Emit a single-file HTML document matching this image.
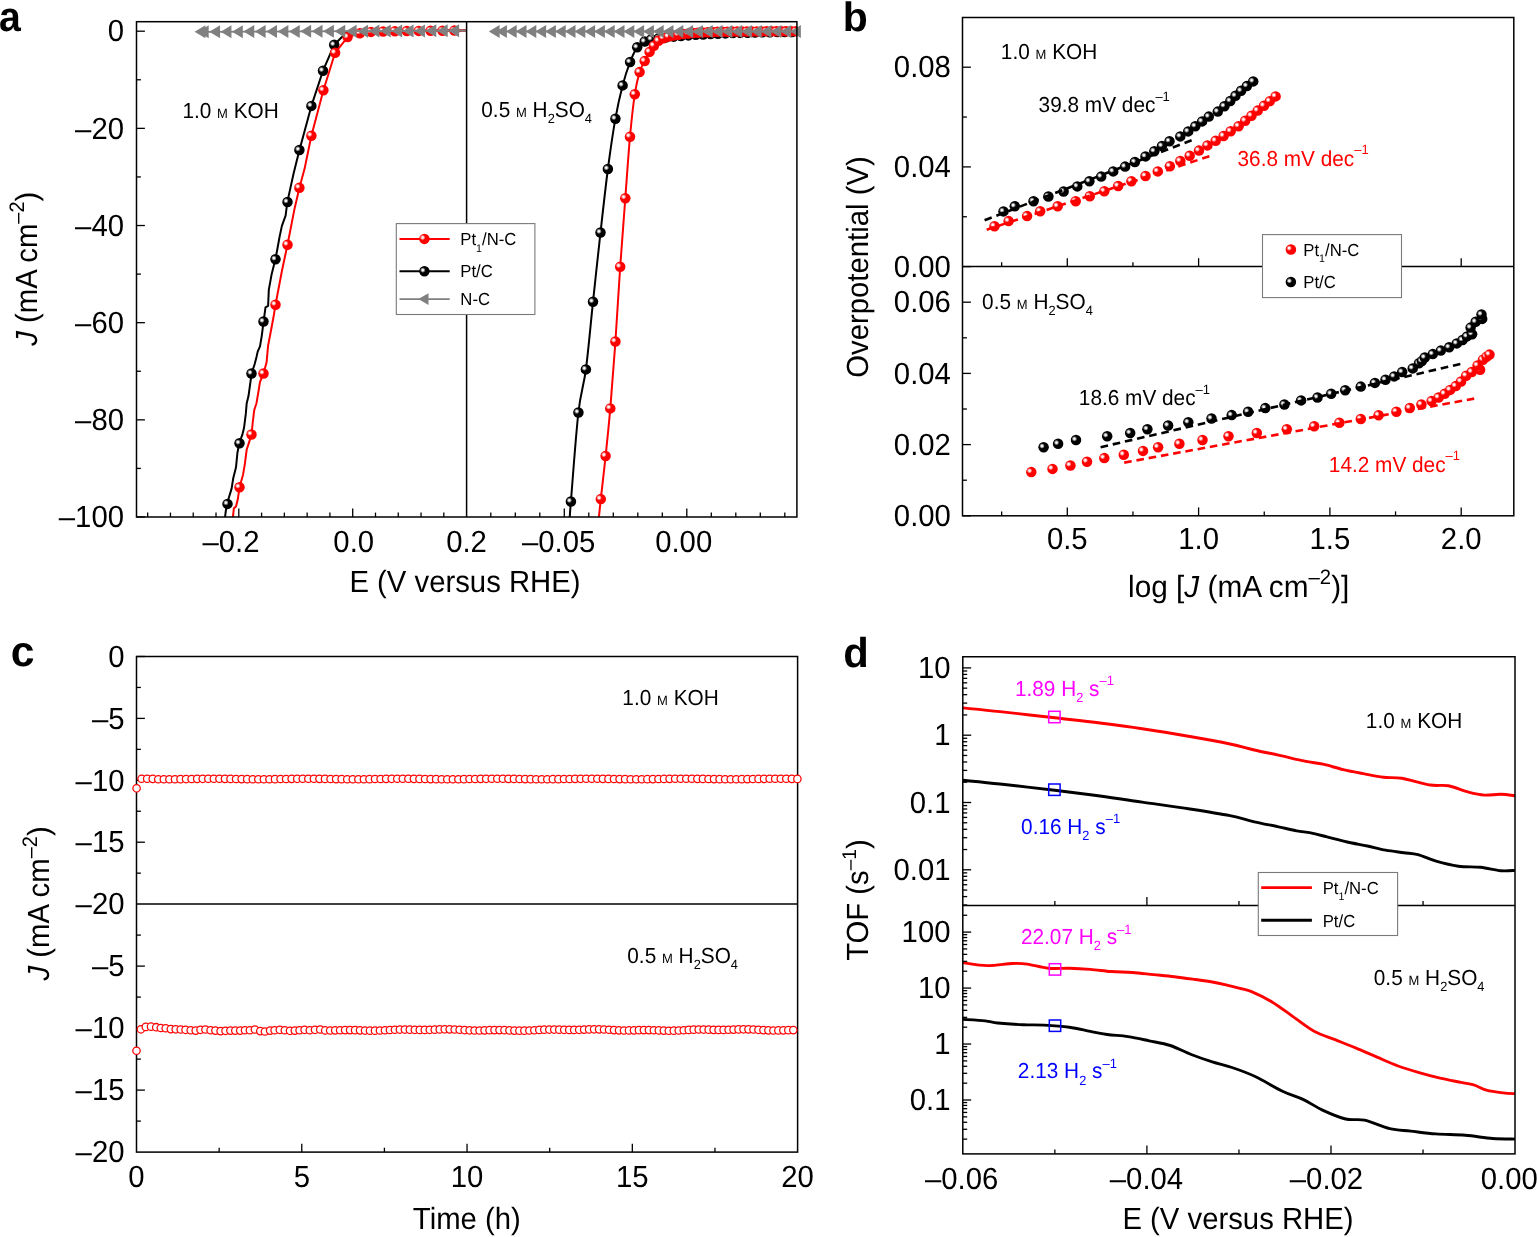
<!DOCTYPE html>
<html><head><meta charset="utf-8"><title>HER performance figure</title>
<style>
html,body{margin:0;padding:0;background:#fff;}
body{width:1537px;height:1237px;overflow:hidden;}
svg{display:block;}
text{font-family:'Liberation Sans', Arial, Helvetica, sans-serif;text-rendering:geometricPrecision;}
</style></head>
<body>
<svg width="1537" height="1237" viewBox="0 0 1537 1237">
<rect x="0" y="0" width="1537" height="1237" fill="#fff"/>
<defs>
<radialGradient id="hl" cx="0.5" cy="0.5" r="0.5"><stop offset="0" stop-color="#fff" stop-opacity="1"/><stop offset="0.3" stop-color="#fff" stop-opacity="0.95"/><stop offset="1" stop-color="#fff" stop-opacity="0"/></radialGradient>
<symbol id="sR" overflow="visible"><circle r="5.25" fill="#f00"/><circle cx="-1.75" cy="-1.4" r="2.8" fill="url(#hl)"/></symbol>
<symbol id="sK" overflow="visible"><circle r="5.25" fill="#000"/><circle cx="-1.6" cy="-1.2" r="2.8" fill="url(#hl)"/></symbol>
<clipPath id="clipA1"><rect x="136.5" y="21.7" width="330.1" height="495.3"/></clipPath>
<clipPath id="clipA2"><rect x="466.6" y="21.7" width="330.3" height="495.3"/></clipPath>
<clipPath id="clipD1"><rect x="962.8" y="656.4" width="552.2" height="249.1"/></clipPath>
<clipPath id="clipD2"><rect x="962.8" y="905.5" width="552.2" height="248.2"/></clipPath>
</defs>
<g clip-path="url(#clipA1)">
<polyline points="225,518 225.7,511.7 227.1,503.7 228.9,497.5 231.6,488.6 233.3,477.9 236,467.3 237.4,453 239.2,443.2 242.2,435.2 244,428.1 245.8,413.9 246.7,403.2 248.5,396.1 250.2,383.6 251.7,373.3 254.7,364 256.5,356.9 257.7,351.6 260,346.3 261.8,335.6 263.6,321.4 265.5,307.4 268.1,305.9 268.8,289.9 271.7,273.9 275.4,259.3 277.6,247.7 279.7,236.1 281.9,225.9 285.6,215.7 287.3,202.3 290.7,186.6 293.6,173.5 296.5,161.8 299.4,150.2 311.4,105.9 323,70.7 334.2,44.8 341.7,37.3 347,31.5 360,30.8 466.6,30.6" fill="none" stroke="#000" stroke-width="2.0" stroke-linejoin="round" stroke-linecap="round" />
<use href="#sK" x="227.5" y="503.9"/>
<use href="#sK" x="239.5" y="443.3"/>
<use href="#sK" x="251.5" y="373.5"/>
<use href="#sK" x="263.5" y="321.5"/>
<use href="#sK" x="275.5" y="259.3"/>
<use href="#sK" x="287.5" y="202"/>
<use href="#sK" x="299.4" y="150"/>
<use href="#sK" x="311.4" y="105.9"/>
<use href="#sK" x="323" y="70.7"/>
<use href="#sK" x="334.2" y="44.8"/>
<polyline points="232.8,518 233.9,508.2 236,506.4 237.8,499.3 239.5,487.3 243.1,474.4 244.9,463.7 246.7,449.5 248.5,444.1 251.5,434.5 252.9,421 254.2,410.3 256.5,403.2 258.3,392.5 260,381.9 263.5,373.5 266.6,362.3 268,346.3 270.7,332 273.4,317.8 275.5,304.7 281.9,271 287.5,244.7 294.3,209.9 299.4,187.7 304.5,169.1 311.4,135.7 323.4,90.2 335.1,52.8 347.6,37.1 359.9,33.2 371,31.9 383.1,31.5 394.9,31.2 406.8,31 418.7,30.9 430.6,30.8 442.5,30.7 454.4,30.6 467,30.6" fill="none" stroke="#f00" stroke-width="2.0" stroke-linejoin="round" stroke-linecap="round" />
<use href="#sR" x="239.5" y="487.3"/>
<use href="#sR" x="251.5" y="434.5"/>
<use href="#sR" x="263.5" y="373.5"/>
<use href="#sR" x="275.5" y="304.7"/>
<use href="#sR" x="287.5" y="244.7"/>
<use href="#sR" x="299.4" y="187.7"/>
<use href="#sR" x="311.4" y="135.7"/>
<use href="#sR" x="323.4" y="90.2"/>
<use href="#sR" x="335.1" y="52.8"/>
<use href="#sR" x="347.6" y="37.1"/>
<use href="#sR" x="359.9" y="33.2"/>
<use href="#sR" x="371" y="31.9"/>
<use href="#sR" x="383.1" y="31.5"/>
<use href="#sR" x="394.9" y="31.2"/>
<use href="#sR" x="406.8" y="31"/>
<use href="#sR" x="418.7" y="30.9"/>
<use href="#sR" x="430.6" y="30.8"/>
<use href="#sR" x="442.5" y="30.7"/>
<use href="#sR" x="454.4" y="30.6"/>
<polyline points="200,31.78 466.6,30.71" fill="none" stroke="#808080" stroke-width="1.8" stroke-linejoin="round" stroke-linecap="round" />
<polygon points="194.6,31.78 205.4,25.28 205.4,38.28" fill="#808080"/>
<polygon points="197.9,31.77 208.7,25.27 208.7,38.27" fill="#808080"/>
<polygon points="209.28,31.72 220.08,25.22 220.08,38.22" fill="#808080"/>
<polygon points="220.66,31.67 231.46,25.17 231.46,38.17" fill="#808080"/>
<polygon points="232.04,31.63 242.84,25.13 242.84,38.13" fill="#808080"/>
<polygon points="243.42,31.58 254.22,25.08 254.22,38.08" fill="#808080"/>
<polygon points="254.8,31.54 265.6,25.04 265.6,38.04" fill="#808080"/>
<polygon points="266.18,31.49 276.98,24.99 276.98,37.99" fill="#808080"/>
<polygon points="277.56,31.45 288.36,24.95 288.36,37.95" fill="#808080"/>
<polygon points="288.94,31.4 299.74,24.9 299.74,37.9" fill="#808080"/>
<polygon points="300.32,31.36 311.12,24.86 311.12,37.86" fill="#808080"/>
<polygon points="311.7,31.31 322.5,24.81 322.5,37.81" fill="#808080"/>
<polygon points="323.08,31.26 333.88,24.76 333.88,37.76" fill="#808080"/>
<polygon points="334.46,31.22 345.26,24.72 345.26,37.72" fill="#808080"/>
<polygon points="345.84,31.17 356.64,24.67 356.64,37.67" fill="#808080"/>
<polygon points="357.22,31.13 368.02,24.63 368.02,37.63" fill="#808080"/>
<polygon points="368.6,31.08 379.4,24.58 379.4,37.58" fill="#808080"/>
<polygon points="379.98,31.04 390.78,24.54 390.78,37.54" fill="#808080"/>
<polygon points="391.36,30.99 402.16,24.49 402.16,37.49" fill="#808080"/>
<polygon points="402.74,30.95 413.54,24.45 413.54,37.45" fill="#808080"/>
<polygon points="414.12,30.9 424.92,24.4 424.92,37.4" fill="#808080"/>
<polygon points="425.5,30.85 436.3,24.35 436.3,37.35" fill="#808080"/>
<polygon points="436.88,30.81 447.68,24.31 447.68,37.31" fill="#808080"/>
<polygon points="448.26,30.76 459.06,24.26 459.06,37.26" fill="#808080"/>
</g>
<g clip-path="url(#clipA2)">
<path d="M569.6,520 C569.82,516.92 569.43,519.42 570.9,501.5 C572.37,483.58 575.9,434.52 578.4,412.5 C580.9,390.48 583.47,387.85 585.9,369.4 C588.33,350.95 590.57,324.62 593,301.8 C595.43,278.98 598.02,254.63 600.5,232.5 C602.98,210.37 605.42,187.97 607.9,169 C610.38,150.03 612.95,132.63 615.4,118.7 C617.85,104.77 620.15,94.85 622.6,85.4 C625.05,75.95 627.67,68.35 630.1,62 C632.53,55.65 634.77,50.72 637.2,47.3 C639.63,43.88 642.33,42.83 644.7,41.5 C647.07,40.17 649.05,39.83 651.4,39.3 C653.75,38.77 656.33,38.61 658.8,38.29 C661.27,37.98 663.73,37.69 666.2,37.41 C668.67,37.14 671.13,36.88 673.6,36.64 C676.07,36.4 678.53,36.18 681,35.97 C683.47,35.76 685.93,35.57 688.4,35.38 C690.87,35.2 693.33,35.03 695.8,34.87 C698.27,34.71 700.73,34.56 703.2,34.42 C705.67,34.28 708.13,34.15 710.6,34.03 C713.07,33.9 715.53,33.79 718,33.68 C720.47,33.58 722.93,33.48 725.4,33.38 C727.87,33.29 730.33,33.2 732.8,33.12 C735.27,33.04 737.73,32.96 740.2,32.89 C742.67,32.82 745.13,32.75 747.6,32.69 C750.07,32.63 752.53,32.57 755,32.52 C757.47,32.46 759.93,32.41 762.4,32.36 C764.87,32.32 767.33,32.27 769.8,32.23 C772.27,32.19 774.73,32.15 777.2,32.11 C779.67,32.08 782.13,32.04 784.6,32.01 C787.07,31.98 789.43,32.04 792,31.92 C794.57,31.8 798.67,31.4 800,31.3" fill="none" stroke="#000" stroke-width="2.0" stroke-linejoin="round" stroke-linecap="round" />
<use href="#sK" x="570.9" y="501.5"/>
<use href="#sK" x="578.4" y="412.5"/>
<use href="#sK" x="585.9" y="369.4"/>
<use href="#sK" x="593" y="301.8"/>
<use href="#sK" x="600.5" y="232.5"/>
<use href="#sK" x="607.9" y="169"/>
<use href="#sK" x="615.4" y="118.7"/>
<use href="#sK" x="622.6" y="85.4"/>
<use href="#sK" x="630.1" y="62"/>
<use href="#sK" x="637.2" y="47.3"/>
<use href="#sK" x="644.7" y="41.5"/>
<use href="#sK" x="651.4" y="39.3"/>
<use href="#sK" x="658.8" y="38.29"/>
<use href="#sK" x="666.2" y="37.41"/>
<use href="#sK" x="673.6" y="36.64"/>
<use href="#sK" x="681" y="35.97"/>
<use href="#sK" x="688.4" y="35.38"/>
<use href="#sK" x="695.8" y="34.87"/>
<use href="#sK" x="703.2" y="34.42"/>
<use href="#sK" x="710.6" y="34.03"/>
<use href="#sK" x="718" y="33.68"/>
<use href="#sK" x="725.4" y="33.38"/>
<use href="#sK" x="732.8" y="33.12"/>
<use href="#sK" x="740.2" y="32.89"/>
<use href="#sK" x="747.6" y="32.69"/>
<use href="#sK" x="755" y="32.52"/>
<use href="#sK" x="762.4" y="32.36"/>
<use href="#sK" x="769.8" y="32.23"/>
<use href="#sK" x="777.2" y="32.11"/>
<use href="#sK" x="784.6" y="32.01"/>
<use href="#sK" x="792" y="31.92"/>
<path d="M598.6,520 C598.97,516.52 599.63,509.77 600.8,499.1 C601.97,488.43 604.02,471.12 605.6,456 C607.18,440.88 608.67,427.48 610.3,408.4 C611.93,389.32 613.75,365.1 615.4,341.5 C617.05,317.9 618.55,290.68 620.2,266.8 C621.85,242.92 623.67,219.88 625.3,198.2 C626.93,176.52 628.42,154.03 630,136.7 C631.58,119.37 633.2,104.97 634.8,94.2 C636.4,83.43 637.95,77.63 639.6,72.1 C641.25,66.57 643.03,64.37 644.7,61 C646.37,57.63 648.07,54.45 649.6,51.9 C651.13,49.35 652.42,47.55 653.9,45.7 C655.38,43.85 656.9,42.05 658.5,40.8 C660.1,39.55 661.83,38.9 663.5,38.2 C665.17,37.5 666.85,37.04 668.5,36.6 C670.15,36.16 671.77,35.86 673.4,35.54 C675.03,35.22 676.67,34.95 678.3,34.69 C679.93,34.44 681.57,34.22 683.2,34.02 C684.83,33.81 686.47,33.64 688.1,33.47 C689.73,33.31 691.37,33.17 693,33.04 C694.63,32.91 696.27,32.8 697.9,32.69 C699.53,32.59 701.17,32.5 702.8,32.41 C704.43,32.33 706.07,32.26 707.7,32.19 C709.33,32.13 710.97,32.07 712.6,32.01 C714.23,31.96 715.87,31.91 717.5,31.87 C719.13,31.83 720.77,31.79 722.4,31.76 C724.03,31.72 725.67,31.69 727.3,31.67 C728.93,31.64 730.57,31.61 732.2,31.59 C733.83,31.57 735.47,31.55 737.1,31.53 C738.73,31.52 740.37,31.5 742,31.49 C743.63,31.47 745.27,31.46 746.9,31.45 C748.53,31.44 750.17,31.43 751.8,31.42 C753.43,31.41 755.07,31.4 756.7,31.4 C758.33,31.39 759.97,31.38 761.6,31.38 C763.23,31.37 764.87,31.37 766.5,31.36 C768.13,31.36 769.77,31.35 771.4,31.35 C773.03,31.35 774.67,31.34 776.3,31.34 C777.93,31.34 779.57,31.33 781.2,31.33 C782.83,31.33 784.47,31.33 786.1,31.33 C787.73,31.32 789.37,31.32 791,31.32 C792.63,31.32 794.4,31.32 795.9,31.32 C797.4,31.31 799.32,31.3 800,31.3" fill="none" stroke="#f00" stroke-width="2.0" stroke-linejoin="round" stroke-linecap="round" />
<use href="#sR" x="600.8" y="499.1"/>
<use href="#sR" x="605.6" y="456"/>
<use href="#sR" x="610.3" y="408.4"/>
<use href="#sR" x="615.4" y="341.5"/>
<use href="#sR" x="620.2" y="266.8"/>
<use href="#sR" x="625.3" y="198.2"/>
<use href="#sR" x="630" y="136.7"/>
<use href="#sR" x="634.8" y="94.2"/>
<use href="#sR" x="639.6" y="72.1"/>
<use href="#sR" x="644.7" y="61"/>
<use href="#sR" x="649.6" y="51.9"/>
<use href="#sR" x="653.9" y="45.7"/>
<use href="#sR" x="658.5" y="40.8"/>
<use href="#sR" x="663.5" y="38.2"/>
<use href="#sR" x="668.5" y="36.6"/>
<use href="#sR" x="673.4" y="35.54"/>
<use href="#sR" x="678.3" y="34.69"/>
<use href="#sR" x="683.2" y="34.02"/>
<use href="#sR" x="688.1" y="33.47"/>
<use href="#sR" x="693" y="33.04"/>
<use href="#sR" x="697.9" y="32.69"/>
<use href="#sR" x="702.8" y="32.41"/>
<use href="#sR" x="707.7" y="32.19"/>
<use href="#sR" x="712.6" y="32.01"/>
<use href="#sR" x="717.5" y="31.87"/>
<use href="#sR" x="722.4" y="31.76"/>
<use href="#sR" x="727.3" y="31.67"/>
<use href="#sR" x="732.2" y="31.59"/>
<use href="#sR" x="737.1" y="31.53"/>
<use href="#sR" x="742" y="31.49"/>
<use href="#sR" x="746.9" y="31.45"/>
<use href="#sR" x="751.8" y="31.42"/>
<use href="#sR" x="756.7" y="31.4"/>
<use href="#sR" x="761.6" y="31.38"/>
<use href="#sR" x="766.5" y="31.36"/>
<use href="#sR" x="771.4" y="31.35"/>
<use href="#sR" x="776.3" y="31.34"/>
<use href="#sR" x="781.2" y="31.33"/>
<use href="#sR" x="786.1" y="31.33"/>
<use href="#sR" x="791" y="31.32"/>
<use href="#sR" x="795.9" y="31.32"/>
<polyline points="494,31.4 800,31.4" fill="none" stroke="#808080" stroke-width="1.8" stroke-linejoin="round" stroke-linecap="round" />
<polygon points="488.8,31.4 499.6,24.9 499.6,37.9" fill="#808080"/>
<polygon points="496.1,31.4 506.9,24.9 506.9,37.9" fill="#808080"/>
<polygon points="505.9,31.4 516.7,24.9 516.7,37.9" fill="#808080"/>
<polygon points="515.7,31.4 526.5,24.9 526.5,37.9" fill="#808080"/>
<polygon points="525.5,31.4 536.3,24.9 536.3,37.9" fill="#808080"/>
<polygon points="535.3,31.4 546.1,24.9 546.1,37.9" fill="#808080"/>
<polygon points="545.1,31.4 555.9,24.9 555.9,37.9" fill="#808080"/>
<polygon points="554.9,31.4 565.7,24.9 565.7,37.9" fill="#808080"/>
<polygon points="564.7,31.4 575.5,24.9 575.5,37.9" fill="#808080"/>
<polygon points="574.5,31.4 585.3,24.9 585.3,37.9" fill="#808080"/>
<polygon points="584.3,31.4 595.1,24.9 595.1,37.9" fill="#808080"/>
<polygon points="594.1,31.4 604.9,24.9 604.9,37.9" fill="#808080"/>
<polygon points="603.9,31.4 614.7,24.9 614.7,37.9" fill="#808080"/>
<polygon points="613.7,31.4 624.5,24.9 624.5,37.9" fill="#808080"/>
<polygon points="623.5,31.4 634.3,24.9 634.3,37.9" fill="#808080"/>
<polygon points="633.3,31.4 644.1,24.9 644.1,37.9" fill="#808080"/>
<polygon points="643.1,31.4 653.9,24.9 653.9,37.9" fill="#808080"/>
<polygon points="652.9,31.4 663.7,24.9 663.7,37.9" fill="#808080"/>
<polygon points="662.7,31.4 673.5,24.9 673.5,37.9" fill="#808080"/>
<polygon points="672.5,31.4 683.3,24.9 683.3,37.9" fill="#808080"/>
<polygon points="682.3,31.4 693.1,24.9 693.1,37.9" fill="#808080"/>
<polygon points="692.1,31.4 702.9,24.9 702.9,37.9" fill="#808080"/>
<polygon points="701.9,31.4 712.7,24.9 712.7,37.9" fill="#808080"/>
<polygon points="711.7,31.4 722.5,24.9 722.5,37.9" fill="#808080"/>
<polygon points="721.5,31.4 732.3,24.9 732.3,37.9" fill="#808080"/>
<polygon points="731.3,31.4 742.1,24.9 742.1,37.9" fill="#808080"/>
<polygon points="741.1,31.4 751.9,24.9 751.9,37.9" fill="#808080"/>
<polygon points="750.9,31.4 761.7,24.9 761.7,37.9" fill="#808080"/>
<polygon points="760.7,31.4 771.5,24.9 771.5,37.9" fill="#808080"/>
<polygon points="770.5,31.4 781.3,24.9 781.3,37.9" fill="#808080"/>
<polygon points="780.3,31.4 791.1,24.9 791.1,37.9" fill="#808080"/>
</g>
<polygon points="790.1,31.4 800.9,24.9 800.9,37.9" fill="#808080"/>
<rect x="136.5" y="21.7" width="660.4" height="495.3" fill="none" stroke="#000" stroke-width="1.5"/>
<line x1="466.6" y1="21.7" x2="466.6" y2="517" stroke="#000" stroke-width="1.5" />
<line x1="136.5" y1="31.2" x2="144.9" y2="31.2" stroke="#000" stroke-width="1.3" />
<text transform="translate(124,41.4) scale(1,1.045)" font-size="29.3" text-anchor="end" fill="#000" font-weight="normal" >0</text>
<line x1="136.5" y1="79.78" x2="140.9" y2="79.78" stroke="#000" stroke-width="1.3" />
<line x1="136.5" y1="128.36" x2="144.9" y2="128.36" stroke="#000" stroke-width="1.3" />
<text transform="translate(124,138.56) scale(1,1.045)" font-size="29.3" text-anchor="end" fill="#000" font-weight="normal" >–20</text>
<line x1="136.5" y1="176.94" x2="140.9" y2="176.94" stroke="#000" stroke-width="1.3" />
<line x1="136.5" y1="225.52" x2="144.9" y2="225.52" stroke="#000" stroke-width="1.3" />
<text transform="translate(124,235.72) scale(1,1.045)" font-size="29.3" text-anchor="end" fill="#000" font-weight="normal" >–40</text>
<line x1="136.5" y1="274.1" x2="140.9" y2="274.1" stroke="#000" stroke-width="1.3" />
<line x1="136.5" y1="322.68" x2="144.9" y2="322.68" stroke="#000" stroke-width="1.3" />
<text transform="translate(124,332.88) scale(1,1.045)" font-size="29.3" text-anchor="end" fill="#000" font-weight="normal" >–60</text>
<line x1="136.5" y1="371.26" x2="140.9" y2="371.26" stroke="#000" stroke-width="1.3" />
<line x1="136.5" y1="419.84" x2="144.9" y2="419.84" stroke="#000" stroke-width="1.3" />
<text transform="translate(124,430.04) scale(1,1.045)" font-size="29.3" text-anchor="end" fill="#000" font-weight="normal" >–80</text>
<line x1="136.5" y1="468.42" x2="140.9" y2="468.42" stroke="#000" stroke-width="1.3" />
<line x1="136.5" y1="517" x2="144.9" y2="517" stroke="#000" stroke-width="1.3" />
<text transform="translate(124,527.2) scale(1,1.045)" font-size="29.3" text-anchor="end" fill="#000" font-weight="normal" >–100</text>
<line x1="147.68" y1="517" x2="147.68" y2="512.6" stroke="#000" stroke-width="1.3" />
<line x1="170.46" y1="517" x2="170.46" y2="512.6" stroke="#000" stroke-width="1.3" />
<line x1="193.24" y1="517" x2="193.24" y2="512.6" stroke="#000" stroke-width="1.3" />
<line x1="216.02" y1="517" x2="216.02" y2="512.6" stroke="#000" stroke-width="1.3" />
<line x1="238.8" y1="517" x2="238.8" y2="508.6" stroke="#000" stroke-width="1.3" />
<line x1="261.58" y1="517" x2="261.58" y2="512.6" stroke="#000" stroke-width="1.3" />
<line x1="284.36" y1="517" x2="284.36" y2="512.6" stroke="#000" stroke-width="1.3" />
<line x1="307.14" y1="517" x2="307.14" y2="512.6" stroke="#000" stroke-width="1.3" />
<line x1="329.92" y1="517" x2="329.92" y2="512.6" stroke="#000" stroke-width="1.3" />
<line x1="352.7" y1="517" x2="352.7" y2="508.6" stroke="#000" stroke-width="1.3" />
<line x1="375.48" y1="517" x2="375.48" y2="512.6" stroke="#000" stroke-width="1.3" />
<line x1="398.26" y1="517" x2="398.26" y2="512.6" stroke="#000" stroke-width="1.3" />
<line x1="421.04" y1="517" x2="421.04" y2="512.6" stroke="#000" stroke-width="1.3" />
<line x1="443.82" y1="517" x2="443.82" y2="512.6" stroke="#000" stroke-width="1.3" />
<line x1="490.8" y1="517" x2="490.8" y2="512.6" stroke="#000" stroke-width="1.3" />
<line x1="515.3" y1="517" x2="515.3" y2="512.6" stroke="#000" stroke-width="1.3" />
<line x1="539.8" y1="517" x2="539.8" y2="512.6" stroke="#000" stroke-width="1.3" />
<line x1="564.3" y1="517" x2="564.3" y2="508.6" stroke="#000" stroke-width="1.3" />
<line x1="588.8" y1="517" x2="588.8" y2="512.6" stroke="#000" stroke-width="1.3" />
<line x1="613.3" y1="517" x2="613.3" y2="512.6" stroke="#000" stroke-width="1.3" />
<line x1="637.8" y1="517" x2="637.8" y2="512.6" stroke="#000" stroke-width="1.3" />
<line x1="662.3" y1="517" x2="662.3" y2="512.6" stroke="#000" stroke-width="1.3" />
<line x1="686.8" y1="517" x2="686.8" y2="508.6" stroke="#000" stroke-width="1.3" />
<line x1="711.3" y1="517" x2="711.3" y2="512.6" stroke="#000" stroke-width="1.3" />
<line x1="735.8" y1="517" x2="735.8" y2="512.6" stroke="#000" stroke-width="1.3" />
<line x1="760.3" y1="517" x2="760.3" y2="512.6" stroke="#000" stroke-width="1.3" />
<line x1="784.8" y1="517" x2="784.8" y2="512.6" stroke="#000" stroke-width="1.3" />
<text transform="translate(202.4,551.8) scale(1,1.045)" font-size="29.3" text-anchor="start" fill="#000" font-weight="normal" >–0.2</text>
<text transform="translate(333.36,551.8) scale(1,1.045)" font-size="29.3" text-anchor="start" fill="#000" font-weight="normal" >0.0</text>
<text transform="translate(446.16,551.8) scale(1,1.045)" font-size="29.3" text-anchor="start" fill="#000" font-weight="normal" >0.2</text>
<text transform="translate(521.9,551.8) scale(1,1.045)" font-size="29.3" text-anchor="start" fill="#000" font-weight="normal" >–0.05</text>
<text transform="translate(655.16,551.8) scale(1,1.045)" font-size="29.3" text-anchor="start" fill="#000" font-weight="normal" >0.00</text>
<text transform="translate(349.4,592.1) scale(1,1.045)" font-size="29.3" text-anchor="start" fill="#000" font-weight="normal" >E (V versus RHE)</text>
<text transform="translate(36.5,268.7) rotate(-90) scale(1,1.045)" font-size="29.3" text-anchor="middle"><tspan font-style="italic">J</tspan> (mA cm<tspan font-size="20" baseline-shift="12.4">–2</tspan>)</text>
<text transform="translate(182.42,117.7) scale(1,1.045)" font-size="20.8" text-anchor="start" fill="#000" font-weight="normal" >1.0 <tspan font-size="13">M</tspan> KOH</text>
<text transform="translate(481.29,117.2) scale(1,1.045)" font-size="20.8" text-anchor="start" fill="#000" font-weight="normal" >0.5 <tspan font-size="13">M</tspan> H<tspan font-size="12.8" baseline-shift="-6">2</tspan>SO<tspan font-size="12.8" baseline-shift="-6">4</tspan></text>
<rect x="396.3" y="223.6" width="138.6" height="90.9" fill="#fff" stroke="#7a7a7a" stroke-width="1.1"/>
<line x1="399.5" y1="238.9" x2="449.7" y2="238.9" stroke="#f00" stroke-width="2.0" />
<use href="#sR" x="424.4" y="238.9"/>
<line x1="399.5" y1="271.3" x2="449.7" y2="271.3" stroke="#000" stroke-width="2.0" />
<use href="#sK" x="424.4" y="271.3"/>
<line x1="399.5" y1="299.1" x2="449.7" y2="299.1" stroke="#808080" stroke-width="1.8" />
<polygon points="418.3,299.1 428.5,293.25 428.5,304.95" fill="#808080"/>
<text transform="translate(460.33,245.4) scale(1,1.045)" font-size="16.7" text-anchor="start" fill="#000" font-weight="normal" >Pt<tspan font-size="10.6" baseline-shift="-6.2">1</tspan>/N-C</text>
<text transform="translate(460.33,276.7) scale(1,1.045)" font-size="16.7" text-anchor="start" fill="#000" font-weight="normal" >Pt/C</text>
<text transform="translate(460.33,304.6) scale(1,1.045)" font-size="16.7" text-anchor="start" fill="#000" font-weight="normal" >N-C</text>
<text transform="translate(-1.1,30.6) scale(0.933,1)" font-size="42" font-weight="bold">a</text>
<use href="#sK" x="1003.5" y="211.4"/>
<use href="#sK" x="1014.8" y="206.3"/>
<use href="#sK" x="1033.5" y="201.2"/>
<use href="#sK" x="1048.4" y="196.5"/>
<use href="#sK" x="1063.6" y="191.5"/>
<use href="#sK" x="1077.3" y="186.4"/>
<use href="#sK" x="1089.4" y="181.3"/>
<use href="#sK" x="1101.2" y="176.6"/>
<use href="#sK" x="1113.2" y="171.4"/>
<use href="#sK" x="1125.1" y="166.6"/>
<use href="#sK" x="1134.9" y="162"/>
<use href="#sK" x="1145.5" y="156.4"/>
<use href="#sK" x="1154.3" y="151.2"/>
<use href="#sK" x="1162" y="146"/>
<use href="#sK" x="1169.5" y="141.2"/>
<use href="#sK" x="1180.3" y="136.4"/>
<use href="#sK" x="1188.2" y="131.4"/>
<use href="#sK" x="1195.3" y="126.2"/>
<use href="#sK" x="1202.1" y="121.4"/>
<use href="#sK" x="1208.8" y="116.6"/>
<use href="#sK" x="1217.8" y="111.6"/>
<use href="#sK" x="1224.4" y="106.2"/>
<use href="#sK" x="1230.3" y="101"/>
<use href="#sK" x="1235.5" y="95.8"/>
<use href="#sK" x="1241.1" y="90.8"/>
<use href="#sK" x="1246.9" y="86"/>
<use href="#sK" x="1253.2" y="81.4"/>
<use href="#sR" x="994.5" y="226.2"/>
<use href="#sR" x="1008.6" y="221.1"/>
<use href="#sR" x="1027.1" y="216.1"/>
<use href="#sR" x="1040.2" y="211.2"/>
<use href="#sR" x="1057.7" y="206.3"/>
<use href="#sR" x="1075.7" y="201.2"/>
<use href="#sR" x="1089.8" y="196.2"/>
<use href="#sR" x="1104.3" y="191.2"/>
<use href="#sR" x="1118.2" y="186"/>
<use href="#sR" x="1131.4" y="181.2"/>
<use href="#sR" x="1145.5" y="176"/>
<use href="#sR" x="1157.8" y="171.4"/>
<use href="#sR" x="1169.9" y="166.2"/>
<use href="#sR" x="1180.3" y="161"/>
<use href="#sR" x="1189.7" y="155.8"/>
<use href="#sR" x="1199" y="150.6"/>
<use href="#sR" x="1207.4" y="145.4"/>
<use href="#sR" x="1215.7" y="140.8"/>
<use href="#sR" x="1223.6" y="136"/>
<use href="#sR" x="1230.7" y="131.2"/>
<use href="#sR" x="1238.6" y="126.2"/>
<use href="#sR" x="1245.2" y="120.8"/>
<use href="#sR" x="1251.5" y="115.8"/>
<use href="#sR" x="1257.7" y="110.6"/>
<use href="#sR" x="1264" y="105.8"/>
<use href="#sR" x="1269.8" y="101.2"/>
<use href="#sR" x="1275.6" y="96.4"/>
<use href="#sK" x="1043.6" y="447.2"/>
<use href="#sK" x="1058.1" y="443.8"/>
<use href="#sK" x="1076" y="440"/>
<use href="#sK" x="1107.2" y="436.2"/>
<use href="#sK" x="1130.2" y="433"/>
<use href="#sK" x="1147.4" y="429.2"/>
<use href="#sK" x="1168.1" y="425.5"/>
<use href="#sK" x="1188.3" y="422.3"/>
<use href="#sK" x="1211.5" y="418.5"/>
<use href="#sK" x="1231.7" y="415.1"/>
<use href="#sK" x="1248.1" y="411.7"/>
<use href="#sK" x="1265.3" y="408.1"/>
<use href="#sK" x="1284.4" y="404.5"/>
<use href="#sK" x="1301.1" y="400.4"/>
<use href="#sK" x="1317.5" y="397.5"/>
<use href="#sK" x="1331.2" y="393.8"/>
<use href="#sK" x="1345.2" y="390.2"/>
<use href="#sK" x="1360.8" y="386.6"/>
<use href="#sK" x="1374.9" y="382.9"/>
<use href="#sK" x="1385.5" y="379.7"/>
<use href="#sK" x="1394.2" y="376.4"/>
<use href="#sK" x="1402.2" y="372"/>
<use href="#sK" x="1412.7" y="368.4"/>
<use href="#sK" x="1419" y="363.3"/>
<use href="#sK" x="1421.9" y="361.1"/>
<use href="#sK" x="1424.8" y="357.5"/>
<use href="#sK" x="1432.8" y="354.1"/>
<use href="#sK" x="1440.8" y="350.6"/>
<use href="#sK" x="1449.2" y="347.3"/>
<use href="#sK" x="1456.8" y="343.4"/>
<use href="#sK" x="1462.6" y="340"/>
<use href="#sK" x="1467" y="336.4"/>
<use href="#sK" x="1472.1" y="334.2"/>
<use href="#sK" x="1470.6" y="327.6"/>
<use href="#sK" x="1475.7" y="321.8"/>
<use href="#sK" x="1482.2" y="318.9"/>
<use href="#sK" x="1481.5" y="314.5"/>
<use href="#sR" x="1031.3" y="472.1"/>
<use href="#sR" x="1052.5" y="468.9"/>
<use href="#sR" x="1070.4" y="465.5"/>
<use href="#sR" x="1087" y="461.7"/>
<use href="#sR" x="1104.3" y="458.1"/>
<use href="#sR" x="1123.8" y="454.7"/>
<use href="#sR" x="1143" y="450.9"/>
<use href="#sR" x="1158.1" y="447.2"/>
<use href="#sR" x="1179.4" y="443.8"/>
<use href="#sR" x="1202.5" y="440"/>
<use href="#sR" x="1228.5" y="436.2"/>
<use href="#sR" x="1256.8" y="433"/>
<use href="#sR" x="1286.8" y="429.2"/>
<use href="#sR" x="1314.2" y="426.3"/>
<use href="#sR" x="1339.4" y="422.7"/>
<use href="#sR" x="1360.8" y="419"/>
<use href="#sR" x="1378.6" y="415.2"/>
<use href="#sR" x="1396.4" y="411.7"/>
<use href="#sR" x="1409.8" y="408"/>
<use href="#sR" x="1421.4" y="404.5"/>
<use href="#sR" x="1431.6" y="401.1"/>
<use href="#sR" x="1438.6" y="397.5"/>
<use href="#sR" x="1444.7" y="393.8"/>
<use href="#sR" x="1450.2" y="389.9"/>
<use href="#sR" x="1455.8" y="386.1"/>
<use href="#sR" x="1461.1" y="381.5"/>
<use href="#sR" x="1466.2" y="375.7"/>
<use href="#sR" x="1471.8" y="372"/>
<use href="#sR" x="1480.1" y="369.8"/>
<use href="#sR" x="1477.6" y="365.5"/>
<use href="#sR" x="1483" y="359.7"/>
<use href="#sR" x="1486.6" y="356.7"/>
<use href="#sR" x="1489.5" y="354.6"/>
<line x1="984.6" y1="220.3" x2="1191.7" y2="140.2" stroke="#000" stroke-width="2.6" stroke-dasharray="7.6 5.01" stroke-linecap="butt"/>
<line x1="986.7" y1="229.7" x2="1209.4" y2="156.2" stroke="#f00" stroke-width="2.6" stroke-dasharray="7.6 5.01" stroke-linecap="butt"/>
<line x1="1100.6" y1="447.2" x2="1460.4" y2="364" stroke="#000" stroke-width="2.6" stroke-dasharray="7.6 4.87" stroke-linecap="butt"/>
<line x1="1124.2" y1="462.6" x2="1474.2" y2="398.6" stroke="#f00" stroke-width="2.6" stroke-dasharray="7.6 4.84" stroke-linecap="butt"/>
<rect x="962.5" y="17.5" width="551.3" height="498.3" fill="none" stroke="#000" stroke-width="1.5"/>
<line x1="962.5" y1="266.6" x2="1513.8" y2="266.6" stroke="#000" stroke-width="1.5" />
<line x1="962.5" y1="266.6" x2="970.9" y2="266.6" stroke="#000" stroke-width="1.3" />
<text transform="translate(950.9,276.8) scale(1,1.045)" font-size="29.3" text-anchor="end" fill="#000" font-weight="normal" >0.00</text>
<line x1="962.5" y1="216.75" x2="966.9" y2="216.75" stroke="#000" stroke-width="1.3" />
<line x1="962.5" y1="166.9" x2="970.9" y2="166.9" stroke="#000" stroke-width="1.3" />
<text transform="translate(950.9,177.1) scale(1,1.045)" font-size="29.3" text-anchor="end" fill="#000" font-weight="normal" >0.04</text>
<line x1="962.5" y1="117.05" x2="966.9" y2="117.05" stroke="#000" stroke-width="1.3" />
<line x1="962.5" y1="67.2" x2="970.9" y2="67.2" stroke="#000" stroke-width="1.3" />
<text transform="translate(950.9,77.4) scale(1,1.045)" font-size="29.3" text-anchor="end" fill="#000" font-weight="normal" >0.08</text>
<line x1="962.5" y1="515.8" x2="970.9" y2="515.8" stroke="#000" stroke-width="1.3" />
<text transform="translate(950.9,526) scale(1,1.045)" font-size="29.3" text-anchor="end" fill="#000" font-weight="normal" >0.00</text>
<line x1="962.5" y1="480.2" x2="966.9" y2="480.2" stroke="#000" stroke-width="1.3" />
<line x1="962.5" y1="444.6" x2="970.9" y2="444.6" stroke="#000" stroke-width="1.3" />
<text transform="translate(950.9,454.8) scale(1,1.045)" font-size="29.3" text-anchor="end" fill="#000" font-weight="normal" >0.02</text>
<line x1="962.5" y1="409" x2="966.9" y2="409" stroke="#000" stroke-width="1.3" />
<line x1="962.5" y1="373.4" x2="970.9" y2="373.4" stroke="#000" stroke-width="1.3" />
<text transform="translate(950.9,383.6) scale(1,1.045)" font-size="29.3" text-anchor="end" fill="#000" font-weight="normal" >0.04</text>
<line x1="962.5" y1="337.8" x2="966.9" y2="337.8" stroke="#000" stroke-width="1.3" />
<line x1="962.5" y1="302.2" x2="970.9" y2="302.2" stroke="#000" stroke-width="1.3" />
<text transform="translate(950.9,312.4) scale(1,1.045)" font-size="29.3" text-anchor="end" fill="#000" font-weight="normal" >0.06</text>
<line x1="1001.65" y1="515.8" x2="1001.65" y2="511.4" stroke="#000" stroke-width="1.3" />
<line x1="1001.65" y1="266.6" x2="1001.65" y2="262.2" stroke="#000" stroke-width="1.3" />
<line x1="1067.3" y1="515.8" x2="1067.3" y2="507.4" stroke="#000" stroke-width="1.3" />
<line x1="1067.3" y1="266.6" x2="1067.3" y2="258.2" stroke="#000" stroke-width="1.3" />
<text transform="translate(1067.3,549.3) scale(1,1.045)" font-size="29.3" text-anchor="middle" fill="#000" font-weight="normal" >0.5</text>
<line x1="1132.95" y1="515.8" x2="1132.95" y2="511.4" stroke="#000" stroke-width="1.3" />
<line x1="1132.95" y1="266.6" x2="1132.95" y2="262.2" stroke="#000" stroke-width="1.3" />
<line x1="1198.6" y1="515.8" x2="1198.6" y2="507.4" stroke="#000" stroke-width="1.3" />
<line x1="1198.6" y1="266.6" x2="1198.6" y2="258.2" stroke="#000" stroke-width="1.3" />
<text transform="translate(1198.6,549.3) scale(1,1.045)" font-size="29.3" text-anchor="middle" fill="#000" font-weight="normal" >1.0</text>
<line x1="1264.25" y1="515.8" x2="1264.25" y2="511.4" stroke="#000" stroke-width="1.3" />
<line x1="1264.25" y1="266.6" x2="1264.25" y2="262.2" stroke="#000" stroke-width="1.3" />
<line x1="1329.9" y1="515.8" x2="1329.9" y2="507.4" stroke="#000" stroke-width="1.3" />
<line x1="1329.9" y1="266.6" x2="1329.9" y2="258.2" stroke="#000" stroke-width="1.3" />
<text transform="translate(1329.9,549.3) scale(1,1.045)" font-size="29.3" text-anchor="middle" fill="#000" font-weight="normal" >1.5</text>
<line x1="1395.55" y1="515.8" x2="1395.55" y2="511.4" stroke="#000" stroke-width="1.3" />
<line x1="1395.55" y1="266.6" x2="1395.55" y2="262.2" stroke="#000" stroke-width="1.3" />
<line x1="1461.2" y1="515.8" x2="1461.2" y2="507.4" stroke="#000" stroke-width="1.3" />
<line x1="1461.2" y1="266.6" x2="1461.2" y2="258.2" stroke="#000" stroke-width="1.3" />
<text transform="translate(1461.2,549.3) scale(1,1.045)" font-size="29.3" text-anchor="middle" fill="#000" font-weight="normal" >2.0</text>
<text transform="translate(1128.03,596.8) scale(1.017,1.045)" font-size="29.3" text-anchor="start" fill="#000" font-weight="normal" >log [<tspan font-style="italic">J</tspan> (mA cm<tspan font-size="20" baseline-shift="12.4">–2</tspan>)]</text>
<text transform="translate(868.4,267) rotate(-90) scale(1,1.045)" font-size="29.3" text-anchor="middle">Overpotential (V)</text>
<text transform="translate(1000.82,58.6) scale(1,1.045)" font-size="20.8" text-anchor="start" fill="#000" font-weight="normal" >1.0 <tspan font-size="13">M</tspan> KOH</text>
<text transform="translate(1038.61,112.2) scale(1,1.045)" font-size="20.8" text-anchor="start" fill="#000" font-weight="normal" >39.8 mV dec<tspan font-size="13" baseline-shift="11.4">–1</tspan></text>
<text transform="translate(1237.51,165.7) scale(1,1.045)" font-size="20.8" text-anchor="start" fill="#f00" font-weight="normal" >36.8 mV dec<tspan font-size="13" baseline-shift="11.4">–1</tspan></text>
<text transform="translate(982.09,308.8) scale(1,1.045)" font-size="20.8" text-anchor="start" fill="#000" font-weight="normal" >0.5 <tspan font-size="13">M</tspan> H<tspan font-size="12.8" baseline-shift="-6">2</tspan>SO<tspan font-size="12.8" baseline-shift="-6">4</tspan></text>
<text transform="translate(1078.82,405) scale(1,1.045)" font-size="20.8" text-anchor="start" fill="#000" font-weight="normal" >18.6 mV dec<tspan font-size="13" baseline-shift="11.4">–1</tspan></text>
<text transform="translate(1328.82,471.8) scale(1,1.045)" font-size="20.8" text-anchor="start" fill="#f00" font-weight="normal" >14.2 mV dec<tspan font-size="13" baseline-shift="11.4">–1</tspan></text>
<rect x="1262.5" y="234.6" width="139" height="63" fill="#fff" stroke="#7a7a7a" stroke-width="1.1"/>
<use href="#sR" x="1290.9" y="249.5"/>
<use href="#sK" x="1290.9" y="282"/>
<text transform="translate(1303.33,255.7) scale(1,1.045)" font-size="16.7" text-anchor="start" fill="#000" font-weight="normal" >Pt<tspan font-size="10.6" baseline-shift="-6.2">1</tspan>/N-C</text>
<text transform="translate(1303.33,288) scale(1,1.045)" font-size="16.7" text-anchor="start" fill="#000" font-weight="normal" >Pt/C</text>
<text transform="translate(842.7,30.6) scale(1,1)" font-size="41" text-anchor="start" fill="#000" font-weight="bold" >b</text>
<rect x="136.5" y="656.5" width="661.1" height="495.6" fill="none" stroke="#000" stroke-width="1.5"/>
<line x1="136.5" y1="904.1" x2="797.6" y2="904.1" stroke="#000" stroke-width="1.5" />
<line x1="136.5" y1="656.5" x2="144.9" y2="656.5" stroke="#000" stroke-width="1.3" />
<text transform="translate(124.5,666.7) scale(1,1.045)" font-size="29.3" text-anchor="end" fill="#000" font-weight="normal" >0</text>
<line x1="136.5" y1="687.45" x2="140.9" y2="687.45" stroke="#000" stroke-width="1.3" />
<line x1="136.5" y1="935.1" x2="140.9" y2="935.1" stroke="#000" stroke-width="1.3" />
<line x1="136.5" y1="718.4" x2="144.9" y2="718.4" stroke="#000" stroke-width="1.3" />
<text transform="translate(124.5,728.6) scale(1,1.045)" font-size="29.3" text-anchor="end" fill="#000" font-weight="normal" >–5</text>
<line x1="136.5" y1="966.1" x2="144.9" y2="966.1" stroke="#000" stroke-width="1.3" />
<text transform="translate(124.5,976.3) scale(1,1.045)" font-size="29.3" text-anchor="end" fill="#000" font-weight="normal" >–5</text>
<line x1="136.5" y1="749.35" x2="140.9" y2="749.35" stroke="#000" stroke-width="1.3" />
<line x1="136.5" y1="997.1" x2="140.9" y2="997.1" stroke="#000" stroke-width="1.3" />
<line x1="136.5" y1="780.3" x2="144.9" y2="780.3" stroke="#000" stroke-width="1.3" />
<text transform="translate(124.5,790.5) scale(1,1.045)" font-size="29.3" text-anchor="end" fill="#000" font-weight="normal" >–10</text>
<line x1="136.5" y1="1028.1" x2="144.9" y2="1028.1" stroke="#000" stroke-width="1.3" />
<text transform="translate(124.5,1038.3) scale(1,1.045)" font-size="29.3" text-anchor="end" fill="#000" font-weight="normal" >–10</text>
<line x1="136.5" y1="811.25" x2="140.9" y2="811.25" stroke="#000" stroke-width="1.3" />
<line x1="136.5" y1="1059.1" x2="140.9" y2="1059.1" stroke="#000" stroke-width="1.3" />
<line x1="136.5" y1="842.2" x2="144.9" y2="842.2" stroke="#000" stroke-width="1.3" />
<text transform="translate(124.5,852.4) scale(1,1.045)" font-size="29.3" text-anchor="end" fill="#000" font-weight="normal" >–15</text>
<line x1="136.5" y1="1090.1" x2="144.9" y2="1090.1" stroke="#000" stroke-width="1.3" />
<text transform="translate(124.5,1100.3) scale(1,1.045)" font-size="29.3" text-anchor="end" fill="#000" font-weight="normal" >–15</text>
<line x1="136.5" y1="873.15" x2="140.9" y2="873.15" stroke="#000" stroke-width="1.3" />
<line x1="136.5" y1="1121.1" x2="140.9" y2="1121.1" stroke="#000" stroke-width="1.3" />
<line x1="136.5" y1="1152.1" x2="136.5" y2="1152.1" stroke="#000" stroke-width="1.5" />
<text transform="translate(124.5,914.3) scale(1,1.045)" font-size="29.3" text-anchor="end" fill="#000" font-weight="normal" >–20</text>
<text transform="translate(124.5,1162.3) scale(1,1.045)" font-size="29.3" text-anchor="end" fill="#000" font-weight="normal" >–20</text>
<line x1="219.14" y1="1152.1" x2="219.14" y2="1147.7" stroke="#000" stroke-width="1.3" />
<line x1="301.77" y1="1152.1" x2="301.77" y2="1143.7" stroke="#000" stroke-width="1.3" />
<line x1="384.41" y1="1152.1" x2="384.41" y2="1147.7" stroke="#000" stroke-width="1.3" />
<line x1="467.05" y1="1152.1" x2="467.05" y2="1143.7" stroke="#000" stroke-width="1.3" />
<line x1="549.69" y1="1152.1" x2="549.69" y2="1147.7" stroke="#000" stroke-width="1.3" />
<line x1="632.33" y1="1152.1" x2="632.33" y2="1143.7" stroke="#000" stroke-width="1.3" />
<line x1="714.96" y1="1152.1" x2="714.96" y2="1147.7" stroke="#000" stroke-width="1.3" />
<text transform="translate(136.5,1187.2) scale(1,1.045)" font-size="29.3" text-anchor="middle" fill="#000" font-weight="normal" >0</text>
<text transform="translate(301.77,1187.2) scale(1,1.045)" font-size="29.3" text-anchor="middle" fill="#000" font-weight="normal" >5</text>
<text transform="translate(467.05,1187.2) scale(1,1.045)" font-size="29.3" text-anchor="middle" fill="#000" font-weight="normal" >10</text>
<text transform="translate(632.33,1187.2) scale(1,1.045)" font-size="29.3" text-anchor="middle" fill="#000" font-weight="normal" >15</text>
<text transform="translate(797.6,1187.2) scale(1,1.045)" font-size="29.3" text-anchor="middle" fill="#000" font-weight="normal" >20</text>
<text transform="translate(412.84,1229.3) scale(1,1.045)" font-size="29.3" text-anchor="start" fill="#000" font-weight="normal" >Time (h)</text>
<text transform="translate(49.1,903.4) rotate(-90) scale(1,1.045)" font-size="29.3" text-anchor="middle"><tspan font-style="italic">J</tspan> (mA cm<tspan font-size="20" baseline-shift="12.4">–2</tspan>)</text>
<circle cx="136.6" cy="788.3" r="3.7" fill="#fff" stroke="#f00" stroke-width="1.25"/>
<circle cx="141.6" cy="778.7" r="3.7" fill="#fff" stroke="#f00" stroke-width="1.25"/>
<circle cx="147.16" cy="778.79" r="3.7" fill="#fff" stroke="#f00" stroke-width="1.25"/>
<circle cx="152.72" cy="778.87" r="3.7" fill="#fff" stroke="#f00" stroke-width="1.25"/>
<circle cx="158.27" cy="779.22" r="3.7" fill="#fff" stroke="#f00" stroke-width="1.25"/>
<circle cx="163.83" cy="779.25" r="3.7" fill="#fff" stroke="#f00" stroke-width="1.25"/>
<circle cx="169.39" cy="779.24" r="3.7" fill="#fff" stroke="#f00" stroke-width="1.25"/>
<circle cx="174.95" cy="779.2" r="3.7" fill="#fff" stroke="#f00" stroke-width="1.25"/>
<circle cx="180.5" cy="779.13" r="3.7" fill="#fff" stroke="#f00" stroke-width="1.25"/>
<circle cx="186.06" cy="779.05" r="3.7" fill="#fff" stroke="#f00" stroke-width="1.25"/>
<circle cx="191.62" cy="778.95" r="3.7" fill="#fff" stroke="#f00" stroke-width="1.25"/>
<circle cx="197.18" cy="778.87" r="3.7" fill="#fff" stroke="#f00" stroke-width="1.25"/>
<circle cx="202.73" cy="778.8" r="3.7" fill="#fff" stroke="#f00" stroke-width="1.25"/>
<circle cx="208.29" cy="778.76" r="3.7" fill="#fff" stroke="#f00" stroke-width="1.25"/>
<circle cx="213.85" cy="778.75" r="3.7" fill="#fff" stroke="#f00" stroke-width="1.25"/>
<circle cx="219.41" cy="778.78" r="3.7" fill="#fff" stroke="#f00" stroke-width="1.25"/>
<circle cx="224.96" cy="778.83" r="3.7" fill="#fff" stroke="#f00" stroke-width="1.25"/>
<circle cx="230.52" cy="778.91" r="3.7" fill="#fff" stroke="#f00" stroke-width="1.25"/>
<circle cx="236.08" cy="779" r="3.7" fill="#fff" stroke="#f00" stroke-width="1.25"/>
<circle cx="241.64" cy="779.09" r="3.7" fill="#fff" stroke="#f00" stroke-width="1.25"/>
<circle cx="247.19" cy="779.17" r="3.7" fill="#fff" stroke="#f00" stroke-width="1.25"/>
<circle cx="252.75" cy="779.22" r="3.7" fill="#fff" stroke="#f00" stroke-width="1.25"/>
<circle cx="258.31" cy="779.25" r="3.7" fill="#fff" stroke="#f00" stroke-width="1.25"/>
<circle cx="263.87" cy="779.24" r="3.7" fill="#fff" stroke="#f00" stroke-width="1.25"/>
<circle cx="269.43" cy="779.2" r="3.7" fill="#fff" stroke="#f00" stroke-width="1.25"/>
<circle cx="274.98" cy="779.13" r="3.7" fill="#fff" stroke="#f00" stroke-width="1.25"/>
<circle cx="280.54" cy="779.04" r="3.7" fill="#fff" stroke="#f00" stroke-width="1.25"/>
<circle cx="286.1" cy="778.95" r="3.7" fill="#fff" stroke="#f00" stroke-width="1.25"/>
<circle cx="291.66" cy="778.87" r="3.7" fill="#fff" stroke="#f00" stroke-width="1.25"/>
<circle cx="297.21" cy="778.8" r="3.7" fill="#fff" stroke="#f00" stroke-width="1.25"/>
<circle cx="302.77" cy="778.76" r="3.7" fill="#fff" stroke="#f00" stroke-width="1.25"/>
<circle cx="308.33" cy="778.75" r="3.7" fill="#fff" stroke="#f00" stroke-width="1.25"/>
<circle cx="313.89" cy="778.78" r="3.7" fill="#fff" stroke="#f00" stroke-width="1.25"/>
<circle cx="319.44" cy="778.83" r="3.7" fill="#fff" stroke="#f00" stroke-width="1.25"/>
<circle cx="325" cy="778.91" r="3.7" fill="#fff" stroke="#f00" stroke-width="1.25"/>
<circle cx="330.56" cy="779" r="3.7" fill="#fff" stroke="#f00" stroke-width="1.25"/>
<circle cx="336.12" cy="779.09" r="3.7" fill="#fff" stroke="#f00" stroke-width="1.25"/>
<circle cx="341.67" cy="779.17" r="3.7" fill="#fff" stroke="#f00" stroke-width="1.25"/>
<circle cx="347.23" cy="779.23" r="3.7" fill="#fff" stroke="#f00" stroke-width="1.25"/>
<circle cx="352.79" cy="779.25" r="3.7" fill="#fff" stroke="#f00" stroke-width="1.25"/>
<circle cx="358.35" cy="779.24" r="3.7" fill="#fff" stroke="#f00" stroke-width="1.25"/>
<circle cx="363.91" cy="779.2" r="3.7" fill="#fff" stroke="#f00" stroke-width="1.25"/>
<circle cx="369.46" cy="779.13" r="3.7" fill="#fff" stroke="#f00" stroke-width="1.25"/>
<circle cx="375.02" cy="779.04" r="3.7" fill="#fff" stroke="#f00" stroke-width="1.25"/>
<circle cx="380.58" cy="778.95" r="3.7" fill="#fff" stroke="#f00" stroke-width="1.25"/>
<circle cx="386.14" cy="778.86" r="3.7" fill="#fff" stroke="#f00" stroke-width="1.25"/>
<circle cx="391.69" cy="778.8" r="3.7" fill="#fff" stroke="#f00" stroke-width="1.25"/>
<circle cx="397.25" cy="778.76" r="3.7" fill="#fff" stroke="#f00" stroke-width="1.25"/>
<circle cx="402.81" cy="778.75" r="3.7" fill="#fff" stroke="#f00" stroke-width="1.25"/>
<circle cx="408.37" cy="778.78" r="3.7" fill="#fff" stroke="#f00" stroke-width="1.25"/>
<circle cx="413.92" cy="778.84" r="3.7" fill="#fff" stroke="#f00" stroke-width="1.25"/>
<circle cx="419.48" cy="778.91" r="3.7" fill="#fff" stroke="#f00" stroke-width="1.25"/>
<circle cx="425.04" cy="779.01" r="3.7" fill="#fff" stroke="#f00" stroke-width="1.25"/>
<circle cx="430.6" cy="779.1" r="3.7" fill="#fff" stroke="#f00" stroke-width="1.25"/>
<circle cx="436.15" cy="779.17" r="3.7" fill="#fff" stroke="#f00" stroke-width="1.25"/>
<circle cx="441.71" cy="779.23" r="3.7" fill="#fff" stroke="#f00" stroke-width="1.25"/>
<circle cx="447.27" cy="779.25" r="3.7" fill="#fff" stroke="#f00" stroke-width="1.25"/>
<circle cx="452.83" cy="779.24" r="3.7" fill="#fff" stroke="#f00" stroke-width="1.25"/>
<circle cx="458.38" cy="779.2" r="3.7" fill="#fff" stroke="#f00" stroke-width="1.25"/>
<circle cx="463.94" cy="779.13" r="3.7" fill="#fff" stroke="#f00" stroke-width="1.25"/>
<circle cx="469.5" cy="779.04" r="3.7" fill="#fff" stroke="#f00" stroke-width="1.25"/>
<circle cx="475.06" cy="778.95" r="3.7" fill="#fff" stroke="#f00" stroke-width="1.25"/>
<circle cx="480.62" cy="778.86" r="3.7" fill="#fff" stroke="#f00" stroke-width="1.25"/>
<circle cx="486.17" cy="778.8" r="3.7" fill="#fff" stroke="#f00" stroke-width="1.25"/>
<circle cx="491.73" cy="778.76" r="3.7" fill="#fff" stroke="#f00" stroke-width="1.25"/>
<circle cx="497.29" cy="778.75" r="3.7" fill="#fff" stroke="#f00" stroke-width="1.25"/>
<circle cx="502.85" cy="778.78" r="3.7" fill="#fff" stroke="#f00" stroke-width="1.25"/>
<circle cx="508.4" cy="778.84" r="3.7" fill="#fff" stroke="#f00" stroke-width="1.25"/>
<circle cx="513.96" cy="778.92" r="3.7" fill="#fff" stroke="#f00" stroke-width="1.25"/>
<circle cx="519.52" cy="779.01" r="3.7" fill="#fff" stroke="#f00" stroke-width="1.25"/>
<circle cx="525.08" cy="779.1" r="3.7" fill="#fff" stroke="#f00" stroke-width="1.25"/>
<circle cx="530.63" cy="779.17" r="3.7" fill="#fff" stroke="#f00" stroke-width="1.25"/>
<circle cx="536.19" cy="779.23" r="3.7" fill="#fff" stroke="#f00" stroke-width="1.25"/>
<circle cx="541.75" cy="779.25" r="3.7" fill="#fff" stroke="#f00" stroke-width="1.25"/>
<circle cx="547.31" cy="779.24" r="3.7" fill="#fff" stroke="#f00" stroke-width="1.25"/>
<circle cx="552.86" cy="779.19" r="3.7" fill="#fff" stroke="#f00" stroke-width="1.25"/>
<circle cx="558.42" cy="779.13" r="3.7" fill="#fff" stroke="#f00" stroke-width="1.25"/>
<circle cx="563.98" cy="779.04" r="3.7" fill="#fff" stroke="#f00" stroke-width="1.25"/>
<circle cx="569.54" cy="778.95" r="3.7" fill="#fff" stroke="#f00" stroke-width="1.25"/>
<circle cx="575.09" cy="778.86" r="3.7" fill="#fff" stroke="#f00" stroke-width="1.25"/>
<circle cx="580.65" cy="778.8" r="3.7" fill="#fff" stroke="#f00" stroke-width="1.25"/>
<circle cx="586.21" cy="778.76" r="3.7" fill="#fff" stroke="#f00" stroke-width="1.25"/>
<circle cx="591.77" cy="778.75" r="3.7" fill="#fff" stroke="#f00" stroke-width="1.25"/>
<circle cx="597.33" cy="778.78" r="3.7" fill="#fff" stroke="#f00" stroke-width="1.25"/>
<circle cx="602.88" cy="778.84" r="3.7" fill="#fff" stroke="#f00" stroke-width="1.25"/>
<circle cx="608.44" cy="778.92" r="3.7" fill="#fff" stroke="#f00" stroke-width="1.25"/>
<circle cx="614" cy="779.01" r="3.7" fill="#fff" stroke="#f00" stroke-width="1.25"/>
<circle cx="619.56" cy="779.1" r="3.7" fill="#fff" stroke="#f00" stroke-width="1.25"/>
<circle cx="625.11" cy="779.17" r="3.7" fill="#fff" stroke="#f00" stroke-width="1.25"/>
<circle cx="630.67" cy="779.23" r="3.7" fill="#fff" stroke="#f00" stroke-width="1.25"/>
<circle cx="636.23" cy="779.25" r="3.7" fill="#fff" stroke="#f00" stroke-width="1.25"/>
<circle cx="641.79" cy="779.24" r="3.7" fill="#fff" stroke="#f00" stroke-width="1.25"/>
<circle cx="647.34" cy="779.19" r="3.7" fill="#fff" stroke="#f00" stroke-width="1.25"/>
<circle cx="652.9" cy="779.12" r="3.7" fill="#fff" stroke="#f00" stroke-width="1.25"/>
<circle cx="658.46" cy="779.04" r="3.7" fill="#fff" stroke="#f00" stroke-width="1.25"/>
<circle cx="664.02" cy="778.94" r="3.7" fill="#fff" stroke="#f00" stroke-width="1.25"/>
<circle cx="669.57" cy="778.86" r="3.7" fill="#fff" stroke="#f00" stroke-width="1.25"/>
<circle cx="675.13" cy="778.79" r="3.7" fill="#fff" stroke="#f00" stroke-width="1.25"/>
<circle cx="680.69" cy="778.76" r="3.7" fill="#fff" stroke="#f00" stroke-width="1.25"/>
<circle cx="686.25" cy="778.75" r="3.7" fill="#fff" stroke="#f00" stroke-width="1.25"/>
<circle cx="691.81" cy="778.78" r="3.7" fill="#fff" stroke="#f00" stroke-width="1.25"/>
<circle cx="697.36" cy="778.84" r="3.7" fill="#fff" stroke="#f00" stroke-width="1.25"/>
<circle cx="702.92" cy="778.92" r="3.7" fill="#fff" stroke="#f00" stroke-width="1.25"/>
<circle cx="708.48" cy="779.01" r="3.7" fill="#fff" stroke="#f00" stroke-width="1.25"/>
<circle cx="714.04" cy="779.1" r="3.7" fill="#fff" stroke="#f00" stroke-width="1.25"/>
<circle cx="719.59" cy="779.18" r="3.7" fill="#fff" stroke="#f00" stroke-width="1.25"/>
<circle cx="725.15" cy="779.23" r="3.7" fill="#fff" stroke="#f00" stroke-width="1.25"/>
<circle cx="730.71" cy="779.25" r="3.7" fill="#fff" stroke="#f00" stroke-width="1.25"/>
<circle cx="736.27" cy="779.24" r="3.7" fill="#fff" stroke="#f00" stroke-width="1.25"/>
<circle cx="741.82" cy="779.19" r="3.7" fill="#fff" stroke="#f00" stroke-width="1.25"/>
<circle cx="747.38" cy="779.12" r="3.7" fill="#fff" stroke="#f00" stroke-width="1.25"/>
<circle cx="752.94" cy="779.04" r="3.7" fill="#fff" stroke="#f00" stroke-width="1.25"/>
<circle cx="758.5" cy="778.94" r="3.7" fill="#fff" stroke="#f00" stroke-width="1.25"/>
<circle cx="764.05" cy="778.86" r="3.7" fill="#fff" stroke="#f00" stroke-width="1.25"/>
<circle cx="769.61" cy="778.79" r="3.7" fill="#fff" stroke="#f00" stroke-width="1.25"/>
<circle cx="775.17" cy="778.76" r="3.7" fill="#fff" stroke="#f00" stroke-width="1.25"/>
<circle cx="780.73" cy="778.75" r="3.7" fill="#fff" stroke="#f00" stroke-width="1.25"/>
<circle cx="786.28" cy="778.78" r="3.7" fill="#fff" stroke="#f00" stroke-width="1.25"/>
<circle cx="791.84" cy="778.84" r="3.7" fill="#fff" stroke="#f00" stroke-width="1.25"/>
<circle cx="797.4" cy="778.92" r="3.7" fill="#fff" stroke="#f00" stroke-width="1.25"/>
<circle cx="136.5" cy="1050.7" r="3.7" fill="#fff" stroke="#f00" stroke-width="1.25"/>
<circle cx="140.9" cy="1029.3" r="3.7" fill="#fff" stroke="#f00" stroke-width="1.25"/>
<circle cx="145.8" cy="1026.9" r="3.7" fill="#fff" stroke="#f00" stroke-width="1.25"/>
<circle cx="151" cy="1026.7" r="3.7" fill="#fff" stroke="#f00" stroke-width="1.25"/>
<circle cx="156.2" cy="1027.2" r="3.7" fill="#fff" stroke="#f00" stroke-width="1.25"/>
<circle cx="160.8" cy="1028" r="3.7" fill="#fff" stroke="#f00" stroke-width="1.25"/>
<circle cx="165.7" cy="1028.2" r="3.7" fill="#fff" stroke="#f00" stroke-width="1.25"/>
<circle cx="170.8" cy="1029.1" r="3.7" fill="#fff" stroke="#f00" stroke-width="1.25"/>
<circle cx="175.7" cy="1029.3" r="3.7" fill="#fff" stroke="#f00" stroke-width="1.25"/>
<circle cx="180.7" cy="1029.5" r="3.7" fill="#fff" stroke="#f00" stroke-width="1.25"/>
<circle cx="185.5" cy="1029.8" r="3.7" fill="#fff" stroke="#f00" stroke-width="1.25"/>
<circle cx="190.7" cy="1030.2" r="3.7" fill="#fff" stroke="#f00" stroke-width="1.25"/>
<circle cx="195.7" cy="1030.6" r="3.7" fill="#fff" stroke="#f00" stroke-width="1.25"/>
<circle cx="200.5" cy="1029.8" r="3.7" fill="#fff" stroke="#f00" stroke-width="1.25"/>
<circle cx="205.4" cy="1029.5" r="3.7" fill="#fff" stroke="#f00" stroke-width="1.25"/>
<circle cx="210.6" cy="1030.2" r="3.7" fill="#fff" stroke="#f00" stroke-width="1.25"/>
<circle cx="215.4" cy="1030.6" r="3.7" fill="#fff" stroke="#f00" stroke-width="1.25"/>
<circle cx="220.6" cy="1031.1" r="3.7" fill="#fff" stroke="#f00" stroke-width="1.25"/>
<circle cx="225.5" cy="1030.8" r="3.7" fill="#fff" stroke="#f00" stroke-width="1.25"/>
<circle cx="230.4" cy="1030.6" r="3.7" fill="#fff" stroke="#f00" stroke-width="1.25"/>
<circle cx="235.3" cy="1030.6" r="3.7" fill="#fff" stroke="#f00" stroke-width="1.25"/>
<circle cx="240.2" cy="1030.6" r="3.7" fill="#fff" stroke="#f00" stroke-width="1.25"/>
<circle cx="245" cy="1030.2" r="3.7" fill="#fff" stroke="#f00" stroke-width="1.25"/>
<circle cx="249.9" cy="1030.2" r="3.7" fill="#fff" stroke="#f00" stroke-width="1.25"/>
<circle cx="254.9" cy="1029.5" r="3.7" fill="#fff" stroke="#f00" stroke-width="1.25"/>
<circle cx="260.3" cy="1031.1" r="3.7" fill="#fff" stroke="#f00" stroke-width="1.25"/>
<circle cx="264.9" cy="1031.5" r="3.7" fill="#fff" stroke="#f00" stroke-width="1.25"/>
<circle cx="270.1" cy="1030.6" r="3.7" fill="#fff" stroke="#f00" stroke-width="1.25"/>
<circle cx="274.6" cy="1030.2" r="3.7" fill="#fff" stroke="#f00" stroke-width="1.25"/>
<circle cx="279.8" cy="1029.8" r="3.7" fill="#fff" stroke="#f00" stroke-width="1.25"/>
<circle cx="284.8" cy="1030.2" r="3.7" fill="#fff" stroke="#f00" stroke-width="1.25"/>
<circle cx="290" cy="1030.8" r="3.7" fill="#fff" stroke="#f00" stroke-width="1.25"/>
<circle cx="294.8" cy="1030.6" r="3.7" fill="#fff" stroke="#f00" stroke-width="1.25"/>
<circle cx="299.6" cy="1030.2" r="3.7" fill="#fff" stroke="#f00" stroke-width="1.25"/>
<circle cx="304.6" cy="1029.8" r="3.7" fill="#fff" stroke="#f00" stroke-width="1.25"/>
<circle cx="309.8" cy="1030.2" r="3.7" fill="#fff" stroke="#f00" stroke-width="1.25"/>
<circle cx="315" cy="1029.8" r="3.7" fill="#fff" stroke="#f00" stroke-width="1.25"/>
<circle cx="320.2" cy="1029.5" r="3.7" fill="#fff" stroke="#f00" stroke-width="1.25"/>
<circle cx="325.18" cy="1030.44" r="3.7" fill="#fff" stroke="#f00" stroke-width="1.25"/>
<circle cx="330.16" cy="1030.45" r="3.7" fill="#fff" stroke="#f00" stroke-width="1.25"/>
<circle cx="335.14" cy="1030.35" r="3.7" fill="#fff" stroke="#f00" stroke-width="1.25"/>
<circle cx="340.12" cy="1030.21" r="3.7" fill="#fff" stroke="#f00" stroke-width="1.25"/>
<circle cx="345.1" cy="1030.09" r="3.7" fill="#fff" stroke="#f00" stroke-width="1.25"/>
<circle cx="350.08" cy="1030.08" r="3.7" fill="#fff" stroke="#f00" stroke-width="1.25"/>
<circle cx="355.06" cy="1030.18" r="3.7" fill="#fff" stroke="#f00" stroke-width="1.25"/>
<circle cx="360.04" cy="1030.36" r="3.7" fill="#fff" stroke="#f00" stroke-width="1.25"/>
<circle cx="365.02" cy="1030.56" r="3.7" fill="#fff" stroke="#f00" stroke-width="1.25"/>
<circle cx="370" cy="1030.69" r="3.7" fill="#fff" stroke="#f00" stroke-width="1.25"/>
<circle cx="374.98" cy="1030.68" r="3.7" fill="#fff" stroke="#f00" stroke-width="1.25"/>
<circle cx="379.96" cy="1030.53" r="3.7" fill="#fff" stroke="#f00" stroke-width="1.25"/>
<circle cx="384.94" cy="1030.26" r="3.7" fill="#fff" stroke="#f00" stroke-width="1.25"/>
<circle cx="389.92" cy="1029.96" r="3.7" fill="#fff" stroke="#f00" stroke-width="1.25"/>
<circle cx="394.9" cy="1029.7" r="3.7" fill="#fff" stroke="#f00" stroke-width="1.25"/>
<circle cx="399.88" cy="1029.55" r="3.7" fill="#fff" stroke="#f00" stroke-width="1.25"/>
<circle cx="404.86" cy="1029.55" r="3.7" fill="#fff" stroke="#f00" stroke-width="1.25"/>
<circle cx="409.84" cy="1029.65" r="3.7" fill="#fff" stroke="#f00" stroke-width="1.25"/>
<circle cx="414.82" cy="1029.8" r="3.7" fill="#fff" stroke="#f00" stroke-width="1.25"/>
<circle cx="419.8" cy="1029.91" r="3.7" fill="#fff" stroke="#f00" stroke-width="1.25"/>
<circle cx="424.78" cy="1029.92" r="3.7" fill="#fff" stroke="#f00" stroke-width="1.25"/>
<circle cx="429.76" cy="1029.81" r="3.7" fill="#fff" stroke="#f00" stroke-width="1.25"/>
<circle cx="434.74" cy="1029.63" r="3.7" fill="#fff" stroke="#f00" stroke-width="1.25"/>
<circle cx="439.72" cy="1029.43" r="3.7" fill="#fff" stroke="#f00" stroke-width="1.25"/>
<circle cx="444.7" cy="1029.31" r="3.7" fill="#fff" stroke="#f00" stroke-width="1.25"/>
<circle cx="449.68" cy="1029.32" r="3.7" fill="#fff" stroke="#f00" stroke-width="1.25"/>
<circle cx="454.66" cy="1029.48" r="3.7" fill="#fff" stroke="#f00" stroke-width="1.25"/>
<circle cx="459.64" cy="1029.75" r="3.7" fill="#fff" stroke="#f00" stroke-width="1.25"/>
<circle cx="464.62" cy="1030.06" r="3.7" fill="#fff" stroke="#f00" stroke-width="1.25"/>
<circle cx="469.6" cy="1030.31" r="3.7" fill="#fff" stroke="#f00" stroke-width="1.25"/>
<circle cx="474.58" cy="1030.45" r="3.7" fill="#fff" stroke="#f00" stroke-width="1.25"/>
<circle cx="479.56" cy="1030.45" r="3.7" fill="#fff" stroke="#f00" stroke-width="1.25"/>
<circle cx="484.54" cy="1030.34" r="3.7" fill="#fff" stroke="#f00" stroke-width="1.25"/>
<circle cx="489.52" cy="1030.19" r="3.7" fill="#fff" stroke="#f00" stroke-width="1.25"/>
<circle cx="494.5" cy="1030.09" r="3.7" fill="#fff" stroke="#f00" stroke-width="1.25"/>
<circle cx="499.48" cy="1030.08" r="3.7" fill="#fff" stroke="#f00" stroke-width="1.25"/>
<circle cx="504.46" cy="1030.19" r="3.7" fill="#fff" stroke="#f00" stroke-width="1.25"/>
<circle cx="509.44" cy="1030.38" r="3.7" fill="#fff" stroke="#f00" stroke-width="1.25"/>
<circle cx="514.42" cy="1030.57" r="3.7" fill="#fff" stroke="#f00" stroke-width="1.25"/>
<circle cx="519.4" cy="1030.69" r="3.7" fill="#fff" stroke="#f00" stroke-width="1.25"/>
<circle cx="524.38" cy="1030.67" r="3.7" fill="#fff" stroke="#f00" stroke-width="1.25"/>
<circle cx="529.36" cy="1030.51" r="3.7" fill="#fff" stroke="#f00" stroke-width="1.25"/>
<circle cx="534.34" cy="1030.24" r="3.7" fill="#fff" stroke="#f00" stroke-width="1.25"/>
<circle cx="539.32" cy="1029.93" r="3.7" fill="#fff" stroke="#f00" stroke-width="1.25"/>
<circle cx="544.3" cy="1029.68" r="3.7" fill="#fff" stroke="#f00" stroke-width="1.25"/>
<circle cx="549.28" cy="1029.55" r="3.7" fill="#fff" stroke="#f00" stroke-width="1.25"/>
<circle cx="554.26" cy="1029.55" r="3.7" fill="#fff" stroke="#f00" stroke-width="1.25"/>
<circle cx="559.24" cy="1029.66" r="3.7" fill="#fff" stroke="#f00" stroke-width="1.25"/>
<circle cx="564.22" cy="1029.81" r="3.7" fill="#fff" stroke="#f00" stroke-width="1.25"/>
<circle cx="569.2" cy="1029.91" r="3.7" fill="#fff" stroke="#f00" stroke-width="1.25"/>
<circle cx="574.18" cy="1029.91" r="3.7" fill="#fff" stroke="#f00" stroke-width="1.25"/>
<circle cx="579.16" cy="1029.8" r="3.7" fill="#fff" stroke="#f00" stroke-width="1.25"/>
<circle cx="584.14" cy="1029.61" r="3.7" fill="#fff" stroke="#f00" stroke-width="1.25"/>
<circle cx="589.12" cy="1029.42" r="3.7" fill="#fff" stroke="#f00" stroke-width="1.25"/>
<circle cx="594.1" cy="1029.31" r="3.7" fill="#fff" stroke="#f00" stroke-width="1.25"/>
<circle cx="599.08" cy="1029.33" r="3.7" fill="#fff" stroke="#f00" stroke-width="1.25"/>
<circle cx="604.06" cy="1029.5" r="3.7" fill="#fff" stroke="#f00" stroke-width="1.25"/>
<circle cx="609.04" cy="1029.77" r="3.7" fill="#fff" stroke="#f00" stroke-width="1.25"/>
<circle cx="614.02" cy="1030.08" r="3.7" fill="#fff" stroke="#f00" stroke-width="1.25"/>
<circle cx="619" cy="1030.33" r="3.7" fill="#fff" stroke="#f00" stroke-width="1.25"/>
<circle cx="623.98" cy="1030.45" r="3.7" fill="#fff" stroke="#f00" stroke-width="1.25"/>
<circle cx="628.96" cy="1030.44" r="3.7" fill="#fff" stroke="#f00" stroke-width="1.25"/>
<circle cx="633.94" cy="1030.33" r="3.7" fill="#fff" stroke="#f00" stroke-width="1.25"/>
<circle cx="638.92" cy="1030.18" r="3.7" fill="#fff" stroke="#f00" stroke-width="1.25"/>
<circle cx="643.9" cy="1030.08" r="3.7" fill="#fff" stroke="#f00" stroke-width="1.25"/>
<circle cx="648.88" cy="1030.09" r="3.7" fill="#fff" stroke="#f00" stroke-width="1.25"/>
<circle cx="653.86" cy="1030.2" r="3.7" fill="#fff" stroke="#f00" stroke-width="1.25"/>
<circle cx="658.84" cy="1030.4" r="3.7" fill="#fff" stroke="#f00" stroke-width="1.25"/>
<circle cx="663.82" cy="1030.59" r="3.7" fill="#fff" stroke="#f00" stroke-width="1.25"/>
<circle cx="668.8" cy="1030.7" r="3.7" fill="#fff" stroke="#f00" stroke-width="1.25"/>
<circle cx="673.78" cy="1030.67" r="3.7" fill="#fff" stroke="#f00" stroke-width="1.25"/>
<circle cx="678.76" cy="1030.49" r="3.7" fill="#fff" stroke="#f00" stroke-width="1.25"/>
<circle cx="683.74" cy="1030.21" r="3.7" fill="#fff" stroke="#f00" stroke-width="1.25"/>
<circle cx="688.72" cy="1029.91" r="3.7" fill="#fff" stroke="#f00" stroke-width="1.25"/>
<circle cx="693.7" cy="1029.67" r="3.7" fill="#fff" stroke="#f00" stroke-width="1.25"/>
<circle cx="698.68" cy="1029.54" r="3.7" fill="#fff" stroke="#f00" stroke-width="1.25"/>
<circle cx="703.66" cy="1029.56" r="3.7" fill="#fff" stroke="#f00" stroke-width="1.25"/>
<circle cx="708.64" cy="1029.68" r="3.7" fill="#fff" stroke="#f00" stroke-width="1.25"/>
<circle cx="713.62" cy="1029.82" r="3.7" fill="#fff" stroke="#f00" stroke-width="1.25"/>
<circle cx="718.6" cy="1029.92" r="3.7" fill="#fff" stroke="#f00" stroke-width="1.25"/>
<circle cx="723.58" cy="1029.91" r="3.7" fill="#fff" stroke="#f00" stroke-width="1.25"/>
<circle cx="728.56" cy="1029.79" r="3.7" fill="#fff" stroke="#f00" stroke-width="1.25"/>
<circle cx="733.54" cy="1029.6" r="3.7" fill="#fff" stroke="#f00" stroke-width="1.25"/>
<circle cx="738.52" cy="1029.41" r="3.7" fill="#fff" stroke="#f00" stroke-width="1.25"/>
<circle cx="743.5" cy="1029.3" r="3.7" fill="#fff" stroke="#f00" stroke-width="1.25"/>
<circle cx="748.48" cy="1029.34" r="3.7" fill="#fff" stroke="#f00" stroke-width="1.25"/>
<circle cx="753.46" cy="1029.52" r="3.7" fill="#fff" stroke="#f00" stroke-width="1.25"/>
<circle cx="758.44" cy="1029.8" r="3.7" fill="#fff" stroke="#f00" stroke-width="1.25"/>
<circle cx="763.42" cy="1030.1" r="3.7" fill="#fff" stroke="#f00" stroke-width="1.25"/>
<circle cx="768.4" cy="1030.34" r="3.7" fill="#fff" stroke="#f00" stroke-width="1.25"/>
<circle cx="773.38" cy="1030.46" r="3.7" fill="#fff" stroke="#f00" stroke-width="1.25"/>
<circle cx="778.36" cy="1030.44" r="3.7" fill="#fff" stroke="#f00" stroke-width="1.25"/>
<circle cx="783.34" cy="1030.32" r="3.7" fill="#fff" stroke="#f00" stroke-width="1.25"/>
<circle cx="788.32" cy="1030.17" r="3.7" fill="#fff" stroke="#f00" stroke-width="1.25"/>
<circle cx="793.3" cy="1030.08" r="3.7" fill="#fff" stroke="#f00" stroke-width="1.25"/>
<text transform="translate(622.32,704.9) scale(1,1.045)" font-size="20.8" text-anchor="start" fill="#000" font-weight="normal" >1.0 <tspan font-size="13">M</tspan> KOH</text>
<text transform="translate(627.29,963.1) scale(1,1.045)" font-size="20.8" text-anchor="start" fill="#000" font-weight="normal" >0.5 <tspan font-size="13">M</tspan> H<tspan font-size="12.8" baseline-shift="-6">2</tspan>SO<tspan font-size="12.8" baseline-shift="-6">4</tspan></text>
<text transform="translate(10.8,666.3) scale(1,1)" font-size="42.7" text-anchor="start" fill="#000" font-weight="bold" >c</text>
<g clip-path="url(#clipD1)">
<path d="M962.7,707.9 C968.92,708.52 984.67,709.95 1000,711.6 C1015.33,713.25 1038.03,715.9 1054.7,717.8 C1071.37,719.7 1085.42,721.18 1100,723 C1114.58,724.82 1127.2,726.45 1142.2,728.7 C1157.2,730.95 1175.37,733.95 1190,736.5 C1204.63,739.05 1219.28,741.75 1230,744 C1240.72,746.25 1246.22,748.15 1254.3,750 C1262.38,751.85 1270.08,753.23 1278.5,755.1 C1286.92,756.97 1297.38,759.68 1304.8,761.2 C1312.22,762.72 1316.6,762.8 1323,764.2 C1329.4,765.6 1336.47,768.02 1343.2,769.6 C1349.93,771.18 1356.67,772.42 1363.4,773.7 C1370.13,774.98 1377.2,776.53 1383.6,777.3 C1390,778.07 1394.05,777.02 1401.8,778.3 C1409.55,779.58 1422.35,783.75 1430.1,785 C1437.85,786.25 1441.9,784.62 1448.3,785.8 C1454.7,786.98 1462.45,790.55 1468.5,792.1 C1474.55,793.65 1479.22,794.73 1484.6,795.1 C1489.98,795.47 1495.57,794.17 1500.8,794.3 C1506.03,794.43 1513.47,795.63 1516,795.9" fill="none" stroke="#f00" stroke-width="2.9" stroke-linejoin="round" stroke-linecap="round" />
<path d="M962.7,780.3 C968.92,780.92 984.67,782.33 1000,784 C1015.33,785.67 1038.03,788.3 1054.7,790.3 C1071.37,792.3 1085.42,794.03 1100,796 C1114.58,797.97 1127.2,799.93 1142.2,802.1 C1157.2,804.27 1175.37,806.73 1190,809 C1204.63,811.27 1219.28,813.57 1230,815.7 C1240.72,817.83 1246.22,819.95 1254.3,821.8 C1262.38,823.65 1271.43,825.28 1278.5,826.8 C1285.57,828.32 1291.32,829.88 1296.7,830.9 C1302.08,831.92 1305.75,831.9 1310.8,832.9 C1315.85,833.9 1320.93,835.38 1327,836.9 C1333.07,838.42 1340.47,840.48 1347.2,842 C1353.93,843.52 1361,844.65 1367.4,846 C1373.8,847.35 1379.53,848.98 1385.6,850.1 C1391.67,851.22 1398.4,851.93 1403.8,852.7 C1409.2,853.47 1412.62,853.28 1418,854.7 C1423.38,856.12 1429.37,859.28 1436.1,861.2 C1442.83,863.12 1450.98,865.18 1458.4,866.2 C1465.82,867.22 1473.53,866.55 1480.6,867.3 C1487.67,868.05 1494.9,870.2 1500.8,870.7 C1506.7,871.2 1513.47,870.37 1516,870.3" fill="none" stroke="#000" stroke-width="2.9" stroke-linejoin="round" stroke-linecap="round" />
</g>
<g clip-path="url(#clipD2)">
<path d="M962.7,962.6 C966.8,963.1 978.98,965.45 987.3,965.6 C995.62,965.75 1005.93,963.75 1012.6,963.5 C1019.27,963.25 1021.35,963.3 1027.3,964.1 C1033.25,964.9 1041.3,967.6 1048.3,968.3 C1055.3,969 1062.3,968.12 1069.3,968.3 C1076.3,968.48 1083.28,968.87 1090.3,969.4 C1097.32,969.93 1104.38,970.98 1111.4,971.5 C1118.42,972.02 1125.4,971.98 1132.4,972.5 C1139.4,973.02 1146.4,973.9 1153.4,974.6 C1160.4,975.3 1167.4,975.88 1174.4,976.7 C1181.4,977.52 1189.08,978.62 1195.4,979.5 C1201.72,980.38 1207.2,981.12 1212.3,982 C1217.4,982.88 1221.38,983.75 1226,984.8 C1230.62,985.85 1235.83,987.2 1240,988.3 C1244.17,989.4 1245.67,989.13 1251,991.4 C1256.33,993.67 1265,997.7 1272,1001.9 C1279,1006.1 1285.98,1011.7 1293,1016.6 C1300.02,1021.5 1307.08,1027.45 1314.1,1031.3 C1321.12,1035.15 1328.1,1036.9 1335.1,1039.7 C1342.1,1042.5 1349.1,1045.18 1356.1,1048.1 C1363.1,1051.02 1370.1,1054.22 1377.1,1057.2 C1384.1,1060.18 1391.1,1063.42 1398.1,1066 C1405.1,1068.58 1412.1,1070.67 1419.1,1072.7 C1426.1,1074.73 1433.1,1076.58 1440.1,1078.2 C1447.1,1079.82 1455.5,1081.28 1461.1,1082.4 C1466.7,1083.52 1469.48,1083.6 1473.7,1084.9 C1477.92,1086.2 1481.48,1088.87 1486.4,1090.2 C1491.32,1091.53 1498.27,1092.32 1503.2,1092.9 C1508.13,1093.48 1513.87,1093.57 1516,1093.7" fill="none" stroke="#f00" stroke-width="2.9" stroke-linejoin="round" stroke-linecap="round" />
<path d="M962.7,1019.4 C966.45,1019.65 979.35,1020.3 985.2,1020.9 C991.05,1021.5 991.48,1022.37 997.8,1023 C1004.12,1023.63 1015.38,1024.35 1023.1,1024.7 C1030.82,1025.05 1036.4,1024.68 1044.1,1025.1 C1051.8,1025.52 1061.6,1026.15 1069.3,1027.2 C1077,1028.25 1083.98,1030.18 1090.3,1031.4 C1096.62,1032.62 1100.88,1033.63 1107.2,1034.5 C1113.52,1035.37 1121.2,1035.55 1128.2,1036.6 C1135.2,1037.65 1142.2,1039.32 1149.2,1040.8 C1156.2,1042.28 1163.2,1043.22 1170.2,1045.5 C1177.2,1047.78 1184.18,1051.77 1191.2,1054.5 C1198.22,1057.23 1205.5,1059.73 1212.3,1061.9 C1219.1,1064.07 1224.85,1065.07 1232,1067.5 C1239.15,1069.93 1246.78,1072.55 1255.2,1076.5 C1263.62,1080.45 1274.45,1087.35 1282.5,1091.2 C1290.55,1095.05 1296.83,1096.45 1303.5,1099.6 C1310.17,1102.75 1315.48,1106.87 1322.5,1110.1 C1329.52,1113.33 1338.6,1117.32 1345.6,1119 C1352.6,1120.68 1357.15,1118.6 1364.5,1120.2 C1371.85,1121.8 1382,1126.78 1389.7,1128.6 C1397.4,1130.42 1403,1130.22 1410.7,1131.1 C1418.4,1131.98 1426.8,1133.2 1435.9,1133.9 C1445,1134.6 1455.83,1134.53 1465.3,1135.3 C1474.77,1136.07 1484.25,1137.87 1492.7,1138.5 C1501.15,1139.13 1512.12,1139 1516,1139.1" fill="none" stroke="#000" stroke-width="2.9" stroke-linejoin="round" stroke-linecap="round" />
</g>
<rect x="1048.7" y="711.3" width="11.4" height="11.4" fill="none" stroke="#ff00ff" stroke-width="1.5"/>
<rect x="1048.7" y="784" width="11.4" height="11.4" fill="none" stroke="#0000ff" stroke-width="1.5"/>
<rect x="1049.3" y="963.7" width="11.4" height="11.4" fill="none" stroke="#ff00ff" stroke-width="1.5"/>
<rect x="1049.3" y="1020" width="11.4" height="11.4" fill="none" stroke="#0000ff" stroke-width="1.5"/>
<rect x="962.8" y="656.75" width="552.2" height="497.15" fill="none" stroke="#000" stroke-width="1.5"/>
<line x1="962.8" y1="905.5" x2="1515" y2="905.5" stroke="#000" stroke-width="1.5" />
<line x1="962.8" y1="904.99" x2="967.2" y2="904.99" stroke="#000" stroke-width="1.3" />
<line x1="962.8" y1="896.58" x2="967.2" y2="896.58" stroke="#000" stroke-width="1.3" />
<line x1="962.8" y1="890.06" x2="967.2" y2="890.06" stroke="#000" stroke-width="1.3" />
<line x1="962.8" y1="884.73" x2="967.2" y2="884.73" stroke="#000" stroke-width="1.3" />
<line x1="962.8" y1="880.22" x2="967.2" y2="880.22" stroke="#000" stroke-width="1.3" />
<line x1="962.8" y1="876.32" x2="967.2" y2="876.32" stroke="#000" stroke-width="1.3" />
<line x1="962.8" y1="872.88" x2="967.2" y2="872.88" stroke="#000" stroke-width="1.3" />
<line x1="962.8" y1="869.8" x2="971.2" y2="869.8" stroke="#000" stroke-width="1.3" />
<line x1="962.8" y1="849.54" x2="967.2" y2="849.54" stroke="#000" stroke-width="1.3" />
<line x1="962.8" y1="1139.13" x2="967.2" y2="1139.13" stroke="#000" stroke-width="1.3" />
<line x1="962.8" y1="837.69" x2="967.2" y2="837.69" stroke="#000" stroke-width="1.3" />
<line x1="962.8" y1="1129.28" x2="967.2" y2="1129.28" stroke="#000" stroke-width="1.3" />
<line x1="962.8" y1="829.28" x2="967.2" y2="829.28" stroke="#000" stroke-width="1.3" />
<line x1="962.8" y1="1122.28" x2="967.2" y2="1122.28" stroke="#000" stroke-width="1.3" />
<line x1="962.8" y1="822.76" x2="967.2" y2="822.76" stroke="#000" stroke-width="1.3" />
<line x1="962.8" y1="1116.86" x2="967.2" y2="1116.86" stroke="#000" stroke-width="1.3" />
<line x1="962.8" y1="817.43" x2="967.2" y2="817.43" stroke="#000" stroke-width="1.3" />
<line x1="962.8" y1="1112.43" x2="967.2" y2="1112.43" stroke="#000" stroke-width="1.3" />
<line x1="962.8" y1="812.92" x2="967.2" y2="812.92" stroke="#000" stroke-width="1.3" />
<line x1="962.8" y1="1108.68" x2="967.2" y2="1108.68" stroke="#000" stroke-width="1.3" />
<line x1="962.8" y1="809.02" x2="967.2" y2="809.02" stroke="#000" stroke-width="1.3" />
<line x1="962.8" y1="1105.43" x2="967.2" y2="1105.43" stroke="#000" stroke-width="1.3" />
<line x1="962.8" y1="805.58" x2="967.2" y2="805.58" stroke="#000" stroke-width="1.3" />
<line x1="962.8" y1="1102.57" x2="967.2" y2="1102.57" stroke="#000" stroke-width="1.3" />
<line x1="962.8" y1="802.5" x2="971.2" y2="802.5" stroke="#000" stroke-width="1.3" />
<line x1="962.8" y1="1100.01" x2="971.2" y2="1100.01" stroke="#000" stroke-width="1.3" />
<line x1="962.8" y1="782.24" x2="967.2" y2="782.24" stroke="#000" stroke-width="1.3" />
<line x1="962.8" y1="1083.16" x2="967.2" y2="1083.16" stroke="#000" stroke-width="1.3" />
<line x1="962.8" y1="770.39" x2="967.2" y2="770.39" stroke="#000" stroke-width="1.3" />
<line x1="962.8" y1="1073.31" x2="967.2" y2="1073.31" stroke="#000" stroke-width="1.3" />
<line x1="962.8" y1="761.98" x2="967.2" y2="761.98" stroke="#000" stroke-width="1.3" />
<line x1="962.8" y1="1066.31" x2="967.2" y2="1066.31" stroke="#000" stroke-width="1.3" />
<line x1="962.8" y1="755.46" x2="967.2" y2="755.46" stroke="#000" stroke-width="1.3" />
<line x1="962.8" y1="1060.89" x2="967.2" y2="1060.89" stroke="#000" stroke-width="1.3" />
<line x1="962.8" y1="750.13" x2="967.2" y2="750.13" stroke="#000" stroke-width="1.3" />
<line x1="962.8" y1="1056.46" x2="967.2" y2="1056.46" stroke="#000" stroke-width="1.3" />
<line x1="962.8" y1="745.62" x2="967.2" y2="745.62" stroke="#000" stroke-width="1.3" />
<line x1="962.8" y1="1052.71" x2="967.2" y2="1052.71" stroke="#000" stroke-width="1.3" />
<line x1="962.8" y1="741.72" x2="967.2" y2="741.72" stroke="#000" stroke-width="1.3" />
<line x1="962.8" y1="1049.46" x2="967.2" y2="1049.46" stroke="#000" stroke-width="1.3" />
<line x1="962.8" y1="738.28" x2="967.2" y2="738.28" stroke="#000" stroke-width="1.3" />
<line x1="962.8" y1="1046.6" x2="967.2" y2="1046.6" stroke="#000" stroke-width="1.3" />
<line x1="962.8" y1="735.2" x2="971.2" y2="735.2" stroke="#000" stroke-width="1.3" />
<line x1="962.8" y1="1044.04" x2="971.2" y2="1044.04" stroke="#000" stroke-width="1.3" />
<line x1="962.8" y1="714.94" x2="967.2" y2="714.94" stroke="#000" stroke-width="1.3" />
<line x1="962.8" y1="1027.19" x2="967.2" y2="1027.19" stroke="#000" stroke-width="1.3" />
<line x1="962.8" y1="703.09" x2="967.2" y2="703.09" stroke="#000" stroke-width="1.3" />
<line x1="962.8" y1="1017.34" x2="967.2" y2="1017.34" stroke="#000" stroke-width="1.3" />
<line x1="962.8" y1="694.68" x2="967.2" y2="694.68" stroke="#000" stroke-width="1.3" />
<line x1="962.8" y1="1010.34" x2="967.2" y2="1010.34" stroke="#000" stroke-width="1.3" />
<line x1="962.8" y1="688.16" x2="967.2" y2="688.16" stroke="#000" stroke-width="1.3" />
<line x1="962.8" y1="1004.92" x2="967.2" y2="1004.92" stroke="#000" stroke-width="1.3" />
<line x1="962.8" y1="682.83" x2="967.2" y2="682.83" stroke="#000" stroke-width="1.3" />
<line x1="962.8" y1="1000.49" x2="967.2" y2="1000.49" stroke="#000" stroke-width="1.3" />
<line x1="962.8" y1="678.32" x2="967.2" y2="678.32" stroke="#000" stroke-width="1.3" />
<line x1="962.8" y1="996.74" x2="967.2" y2="996.74" stroke="#000" stroke-width="1.3" />
<line x1="962.8" y1="674.42" x2="967.2" y2="674.42" stroke="#000" stroke-width="1.3" />
<line x1="962.8" y1="993.49" x2="967.2" y2="993.49" stroke="#000" stroke-width="1.3" />
<line x1="962.8" y1="670.98" x2="967.2" y2="670.98" stroke="#000" stroke-width="1.3" />
<line x1="962.8" y1="990.63" x2="967.2" y2="990.63" stroke="#000" stroke-width="1.3" />
<line x1="962.8" y1="667.9" x2="971.2" y2="667.9" stroke="#000" stroke-width="1.3" />
<line x1="962.8" y1="988.07" x2="971.2" y2="988.07" stroke="#000" stroke-width="1.3" />
<line x1="962.8" y1="971.22" x2="967.2" y2="971.22" stroke="#000" stroke-width="1.3" />
<line x1="962.8" y1="961.37" x2="967.2" y2="961.37" stroke="#000" stroke-width="1.3" />
<line x1="962.8" y1="954.37" x2="967.2" y2="954.37" stroke="#000" stroke-width="1.3" />
<line x1="962.8" y1="948.95" x2="967.2" y2="948.95" stroke="#000" stroke-width="1.3" />
<line x1="962.8" y1="944.52" x2="967.2" y2="944.52" stroke="#000" stroke-width="1.3" />
<line x1="962.8" y1="940.77" x2="967.2" y2="940.77" stroke="#000" stroke-width="1.3" />
<line x1="962.8" y1="937.52" x2="967.2" y2="937.52" stroke="#000" stroke-width="1.3" />
<line x1="962.8" y1="934.66" x2="967.2" y2="934.66" stroke="#000" stroke-width="1.3" />
<line x1="962.8" y1="932.1" x2="971.2" y2="932.1" stroke="#000" stroke-width="1.3" />
<line x1="962.8" y1="915.25" x2="967.2" y2="915.25" stroke="#000" stroke-width="1.3" />
<text transform="translate(950.5,678.1) scale(1,1.045)" font-size="29.3" text-anchor="end" fill="#000" font-weight="normal" >10</text>
<text transform="translate(950.5,745.4) scale(1,1.045)" font-size="29.3" text-anchor="end" fill="#000" font-weight="normal" >1</text>
<text transform="translate(950.5,812.7) scale(1,1.045)" font-size="29.3" text-anchor="end" fill="#000" font-weight="normal" >0.1</text>
<text transform="translate(950.5,880) scale(1,1.045)" font-size="29.3" text-anchor="end" fill="#000" font-weight="normal" >0.01</text>
<text transform="translate(950.5,942.3) scale(1,1.045)" font-size="29.3" text-anchor="end" fill="#000" font-weight="normal" >100</text>
<text transform="translate(950.5,998.27) scale(1,1.045)" font-size="29.3" text-anchor="end" fill="#000" font-weight="normal" >10</text>
<text transform="translate(950.5,1054.24) scale(1,1.045)" font-size="29.3" text-anchor="end" fill="#000" font-weight="normal" >1</text>
<text transform="translate(950.5,1110.21) scale(1,1.045)" font-size="29.3" text-anchor="end" fill="#000" font-weight="normal" >0.1</text>
<line x1="1054.85" y1="1153.9" x2="1054.85" y2="1149.5" stroke="#000" stroke-width="1.3" />
<line x1="1054.85" y1="905.5" x2="1054.85" y2="901.1" stroke="#000" stroke-width="1.3" />
<line x1="1146.9" y1="1153.9" x2="1146.9" y2="1145.5" stroke="#000" stroke-width="1.3" />
<line x1="1146.9" y1="905.5" x2="1146.9" y2="897.1" stroke="#000" stroke-width="1.3" />
<line x1="1238.95" y1="1153.9" x2="1238.95" y2="1149.5" stroke="#000" stroke-width="1.3" />
<line x1="1238.95" y1="905.5" x2="1238.95" y2="901.1" stroke="#000" stroke-width="1.3" />
<line x1="1331" y1="1153.9" x2="1331" y2="1145.5" stroke="#000" stroke-width="1.3" />
<line x1="1331" y1="905.5" x2="1331" y2="897.1" stroke="#000" stroke-width="1.3" />
<line x1="1423.05" y1="1153.9" x2="1423.05" y2="1149.5" stroke="#000" stroke-width="1.3" />
<line x1="1423.05" y1="905.5" x2="1423.05" y2="901.1" stroke="#000" stroke-width="1.3" />
<text transform="translate(924.9,1188.7) scale(1,1.045)" font-size="29.3" text-anchor="start" fill="#000" font-weight="normal" >–0.06</text>
<text transform="translate(1109.8,1188.7) scale(1,1.045)" font-size="29.3" text-anchor="start" fill="#000" font-weight="normal" >–0.04</text>
<text transform="translate(1289.8,1188.7) scale(1,1.045)" font-size="29.3" text-anchor="start" fill="#000" font-weight="normal" >–0.02</text>
<text transform="translate(1480.76,1188.7) scale(1,1.045)" font-size="29.3" text-anchor="start" fill="#000" font-weight="normal" >0.00</text>
<text transform="translate(1122.4,1228.8) scale(1,1.045)" font-size="29.3" text-anchor="start" fill="#000" font-weight="normal" >E (V versus RHE)</text>
<text transform="translate(868.4,900.1) rotate(-90) scale(1,1.045)" font-size="29.3" text-anchor="middle">TOF (s<tspan font-size="19" baseline-shift="12.2">–1</tspan>)</text>
<text transform="translate(1014.92,695.5) scale(1,1.045)" font-size="20.8" text-anchor="start" fill="#ff00ff" font-weight="normal" >1.89 H<tspan font-size="12.8" baseline-shift="-6">2</tspan> s<tspan font-size="13" baseline-shift="9.7">–1</tspan></text>
<text transform="translate(1021.09,833.5) scale(1,1.045)" font-size="20.8" text-anchor="start" fill="#0000ff" font-weight="normal" >0.16 H<tspan font-size="12.8" baseline-shift="-6">2</tspan> s<tspan font-size="13" baseline-shift="9.7">–1</tspan></text>
<text transform="translate(1020.95,944.1) scale(1,1.045)" font-size="20.8" text-anchor="start" fill="#ff00ff" font-weight="normal" >22.07 H<tspan font-size="12.8" baseline-shift="-6">2</tspan> s<tspan font-size="13" baseline-shift="9.7">–1</tspan></text>
<text transform="translate(1017.85,1078.3) scale(1,1.045)" font-size="20.8" text-anchor="start" fill="#0000ff" font-weight="normal" >2.13 H<tspan font-size="12.8" baseline-shift="-6">2</tspan> s<tspan font-size="13" baseline-shift="9.7">–1</tspan></text>
<text transform="translate(1365.82,728.4) scale(1,1.045)" font-size="20.8" text-anchor="start" fill="#000" font-weight="normal" >1.0 <tspan font-size="13">M</tspan> KOH</text>
<text transform="translate(1373.79,985.1) scale(1,1.045)" font-size="20.8" text-anchor="start" fill="#000" font-weight="normal" >0.5 <tspan font-size="13">M</tspan> H<tspan font-size="12.8" baseline-shift="-6">2</tspan>SO<tspan font-size="12.8" baseline-shift="-6">4</tspan></text>
<rect x="1258.3" y="872.5" width="139.3" height="63" fill="#fff" stroke="#7a7a7a" stroke-width="1.1"/>
<line x1="1261.2" y1="887.6" x2="1311.9" y2="887.6" stroke="#f00" stroke-width="2.9" />
<line x1="1261.2" y1="920.2" x2="1311.9" y2="920.2" stroke="#000" stroke-width="2.9" />
<text transform="translate(1322.73,893.8) scale(1,1.045)" font-size="16.7" text-anchor="start" fill="#000" font-weight="normal" >Pt<tspan font-size="10.6" baseline-shift="-6.2">1</tspan>/N-C</text>
<text transform="translate(1322.73,926.6) scale(1,1.045)" font-size="16.7" text-anchor="start" fill="#000" font-weight="normal" >Pt/C</text>
<text transform="translate(843.2,666.9) scale(1,1)" font-size="41.8" text-anchor="start" fill="#000" font-weight="bold" >d</text>
</svg>
</body></html>
